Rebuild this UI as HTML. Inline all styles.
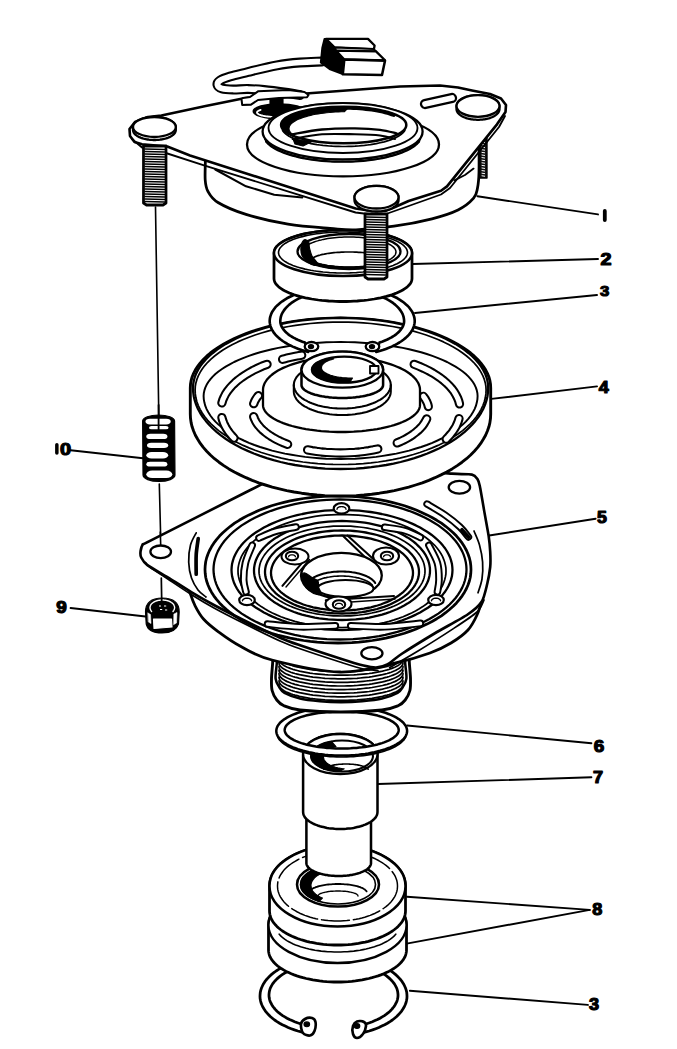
<!DOCTYPE html>
<html><head><meta charset="utf-8"><style>
html,body{margin:0;padding:0;background:#fff;overflow:hidden;width:677px;height:1049px;}
svg{display:block;}
text{font-family:"Liberation Sans",sans-serif;font-weight:bold;fill:#000;}
</style></head><body>
<svg width="677" height="1049" viewBox="0 0 677 1049" stroke="#000" stroke-linecap="round" stroke-linejoin="round" fill="none">
<rect width="677" height="1049" fill="#fff" stroke="none"/>
<line x1="477.5" y1="196.3" x2="598" y2="214.4" stroke-width="1.95"/>
<line x1="412.5" y1="264" x2="598" y2="259" stroke-width="1.95"/>
<line x1="415" y1="313" x2="597" y2="295" stroke-width="1.95"/>
<line x1="491.3" y1="398.9" x2="597" y2="386.4" stroke-width="1.95"/>
<line x1="487.6" y1="535.8" x2="595.6" y2="518.7" stroke-width="1.95"/>
<line x1="407.1" y1="725.5" x2="591.4" y2="743.2" stroke-width="1.95"/>
<line x1="378" y1="784" x2="591.4" y2="777.3" stroke-width="1.95"/>
<line x1="407" y1="896.7" x2="589.7" y2="909.9" stroke-width="1.95"/>
<line x1="405.3" y1="943.9" x2="589.7" y2="909.9" stroke-width="1.95"/>
<line x1="409.9" y1="990.7" x2="587.9" y2="1004.9" stroke-width="1.95"/>
<line x1="70.6" y1="450.2" x2="143" y2="458.3" stroke-width="1.95"/>
<line x1="70.6" y1="608" x2="145.5" y2="616.5" stroke-width="1.95"/>
<path d="M604.80,210.90 L604.80,220.10" stroke-width="3.80" fill="none" />
<text x="0" y="0" font-size="100" stroke="#000" stroke-width="7" stroke-linejoin="round" transform="translate(600.40,265.04) scale(0.1982,0.1597)">2</text>
<text x="0" y="0" font-size="100" stroke="#000" stroke-width="7" stroke-linejoin="round" transform="translate(600.05,296.31) scale(0.1684,0.1538)">3</text>
<text x="0" y="0" font-size="100" stroke="#000" stroke-width="7" stroke-linejoin="round" transform="translate(598.87,393.45) scale(0.1800,0.1579)">4</text>
<text x="0" y="0" font-size="100" stroke="#000" stroke-width="7" stroke-linejoin="round" transform="translate(596.89,522.98) scale(0.1772,0.1597)">5</text>
<text x="0" y="0" font-size="100" stroke="#000" stroke-width="7" stroke-linejoin="round" transform="translate(593.81,751.73) scale(0.1891,0.1705)">6</text>
<text x="0" y="0" font-size="100" stroke="#000" stroke-width="7" stroke-linejoin="round" transform="translate(592.91,783.09) scale(0.1815,0.1653)">7</text>
<text x="0" y="0" font-size="100" stroke="#000" stroke-width="7" stroke-linejoin="round" transform="translate(592.29,915.44) scale(0.1807,0.1692)">8</text>
<text x="0" y="0" font-size="100" stroke="#000" stroke-width="7" stroke-linejoin="round" transform="translate(588.97,1010.34) scale(0.1807,0.1679)">3</text>
<path d="M56.85,444.85 L56.85,453.05" stroke-width="3.50" fill="none" />
<text x="0" y="0" font-size="100" stroke="#000" stroke-width="7" stroke-linejoin="round" transform="translate(60.10,454.97) scale(0.2000,0.1615)">0</text>
<text x="0" y="0" font-size="100" stroke="#000" stroke-width="7" stroke-linejoin="round" transform="translate(56.31,612.73) scale(0.1891,0.1705)">9</text>
<line x1="155.5" y1="207" x2="158.8" y2="416" stroke-width="1.61"/>
<line x1="159.3" y1="484" x2="161" y2="550" stroke-width="1.61"/>
<path d="M308.4,1033.6 L304.8,1032.8 L301.2,1031.9 L297.8,1031.0 L294.5,1029.9 L291.2,1028.7 L288.1,1027.5 L285.2,1026.1 L282.3,1024.7 L279.6,1023.2 L277.0,1021.6 L274.6,1020.0 L272.4,1018.2 L270.3,1016.5 L268.4,1014.6 L266.7,1012.7 L265.2,1010.8 L263.9,1008.8 L262.7,1006.8 L261.8,1004.8 L261.0,1002.7 L260.5,1000.6 L260.1,998.5 L260.0,996.4 L260.1,994.3 L260.3,992.2 L260.8,990.1 L261.5,988.0 L262.4,986.0 L263.4,983.9 L264.7,981.9 L266.1,980.0 L267.8,978.1 L269.6,976.2 L271.6,974.4 L273.8,972.7 L276.1,971.0 L278.6,969.4 L281.3,967.9 L284.1,966.4 L287.0,965.0 L290.1,963.7 L293.2,962.5 L296.5,961.4 L299.9,960.4 L303.4,959.5 L307.0,958.7 L310.6,958.0 L314.4,957.4 L318.1,956.9 L321.9,956.5 L325.8,956.2 L329.6,956.1 L333.5,956.0 L337.4,956.1 L341.2,956.2 L345.1,956.5 L348.9,956.9 L352.6,957.4 L356.4,958.0 L360.0,958.7 L363.6,959.5 L367.1,960.4 L370.5,961.4 L373.8,962.5 L376.9,963.7 L380.0,965.0 L382.9,966.4 L385.7,967.9 L388.4,969.4 L390.9,971.0 L393.2,972.7 L395.4,974.4 L397.4,976.2 L399.2,978.1 L400.9,980.0 L402.3,981.9 L403.6,983.9 L404.6,986.0 L405.5,988.0 L406.2,990.1 L406.7,992.2 L406.9,994.3 L407.0,996.4 L406.9,998.5 L406.5,1000.6 L406.0,1002.7 L405.2,1004.8 L404.3,1006.8 L403.1,1008.8 L401.8,1010.8 L400.3,1012.7 L398.6,1014.6 L396.7,1016.5 L394.6,1018.2 L392.4,1020.0 L390.0,1021.6 L387.4,1023.2 L384.7,1024.7 L381.8,1026.1 L378.9,1027.5 L375.8,1028.7 L372.5,1029.9 L369.2,1031.0 L365.8,1031.9 L362.2,1032.8 L358.6,1033.6 L357.7,1026.1 L360.8,1025.4 L363.8,1024.6 L366.7,1023.7 L369.6,1022.8 L372.4,1021.7 L375.0,1020.6 L377.5,1019.5 L380.0,1018.2 L382.2,1016.9 L384.4,1015.6 L386.4,1014.2 L388.3,1012.7 L390.0,1011.2 L391.5,1009.6 L392.9,1008.0 L394.2,1006.4 L395.2,1004.7 L396.1,1003.0 L396.9,1001.3 L397.4,999.6 L397.8,997.8 L398.0,996.0 L398.0,994.3 L397.8,992.5 L397.5,990.8 L397.0,989.0 L396.3,987.3 L395.4,985.6 L394.4,983.9 L393.2,982.3 L391.8,980.7 L390.3,979.1 L388.6,977.6 L386.8,976.1 L384.8,974.7 L382.7,973.3 L380.4,972.0 L378.0,970.8 L375.5,969.6 L372.9,968.5 L370.1,967.4 L367.3,966.5 L364.4,965.6 L361.4,964.8 L358.3,964.1 L355.1,963.4 L351.9,962.9 L348.6,962.4 L345.3,962.1 L341.9,961.8 L338.6,961.6 L335.2,961.5 L331.8,961.5 L328.4,961.6 L325.1,961.8 L321.7,962.1 L318.4,962.4 L315.1,962.9 L311.9,963.4 L308.7,964.1 L305.6,964.8 L302.6,965.6 L299.7,966.5 L296.9,967.4 L294.1,968.5 L291.5,969.6 L289.0,970.8 L286.6,972.0 L284.3,973.3 L282.2,974.7 L280.2,976.1 L278.4,977.6 L276.7,979.1 L275.2,980.7 L273.8,982.3 L272.6,983.9 L271.6,985.6 L270.7,987.3 L270.0,989.0 L269.5,990.8 L269.2,992.5 L269.0,994.3 L269.0,996.0 L269.2,997.8 L269.6,999.6 L270.1,1001.3 L270.9,1003.0 L271.8,1004.7 L272.8,1006.4 L274.1,1008.0 L275.5,1009.6 L277.0,1011.2 L278.7,1012.7 L280.6,1014.2 L282.6,1015.6 L284.8,1016.9 L287.0,1018.2 L289.5,1019.5 L292.0,1020.6 L294.6,1021.7 L297.4,1022.8 L300.3,1023.7 L303.2,1024.6 L306.2,1025.4 L309.3,1026.1 Z" stroke-width="2.76" fill="white" />
<path d="M301.0,1024.0 C301.3,1021.7 303.2,1020.0 305.0,1019.0 C306.8,1018.0 310.2,1017.5 312.0,1018.0 C313.8,1018.5 315.1,1019.8 315.5,1022.0 C315.9,1024.2 315.4,1028.8 314.5,1031.0 C313.6,1033.2 311.9,1035.2 310.0,1035.5 C308.1,1035.8 304.5,1034.9 303.0,1033.0 C301.5,1031.1 300.7,1026.3 301.0,1024.0 Z" stroke-width="2.64" fill="white" />
<ellipse cx="306.8" cy="1024.3" rx="2.8" ry="2.4" stroke-width="1.15" fill="#000"/>
<path d="M353.0,1026.0 C353.7,1023.9 355.2,1022.2 357.0,1021.5 C358.8,1020.8 362.5,1021.2 364.0,1022.0 C365.5,1022.8 366.2,1024.0 366.0,1026.0 C365.8,1028.0 364.5,1032.0 363.0,1034.0 C361.5,1036.0 358.7,1038.0 357.0,1038.0 C355.3,1038.0 353.7,1036.0 353.0,1034.0 C352.3,1032.0 352.3,1028.1 353.0,1026.0 Z" stroke-width="2.64" fill="white" />
<ellipse cx="357" cy="1026" rx="2.8" ry="2.4" stroke-width="1.15" fill="#000"/>
<path d="M268.5,925.0 L268.6,923.0 L268.9,921.0 L269.3,919.1 L270.0,917.1 L270.9,915.2 L271.9,913.3 L273.1,911.4 L274.5,909.5 L276.0,907.7 L277.7,906.0 L279.6,904.3 L281.7,902.7 L283.9,901.1 L286.2,899.6 L288.7,898.1 L291.3,896.8 L294.1,895.5 L296.9,894.3 L299.9,893.1 L303.0,892.1 L306.2,891.1 L309.4,890.3 L312.8,889.5 L316.2,888.9 L319.6,888.3 L323.2,887.8 L326.7,887.5 L330.3,887.2 L333.9,887.1 L337.5,887.0 L341.1,887.1 L344.7,887.2 L348.3,887.5 L351.8,887.8 L355.4,888.3 L358.8,888.9 L362.2,889.5 L365.6,890.3 L368.8,891.1 L372.0,892.1 L375.1,893.1 L378.1,894.3 L380.9,895.5 L383.7,896.8 L386.3,898.1 L388.8,899.6 L391.1,901.1 L393.3,902.7 L395.4,904.3 L397.3,906.0 L399.0,907.7 L400.5,909.5 L401.9,911.4 L403.1,913.3 L404.1,915.2 L405.0,917.1 L405.7,919.1 L406.1,921.0 L406.4,923.0 L406.5,925.0 L406.5,950.0 L406.4,951.7 L406.1,953.3 L405.7,955.0 L405.0,956.7 L404.1,958.3 L403.1,959.9 L401.9,961.5 L400.5,963.0 L399.0,964.5 L397.3,966.0 L395.4,967.4 L393.3,968.8 L391.1,970.1 L388.8,971.4 L386.3,972.6 L383.7,973.8 L380.9,974.9 L378.1,975.9 L375.1,976.8 L372.0,977.7 L368.8,978.5 L365.6,979.2 L362.2,979.9 L358.8,980.4 L355.4,980.9 L351.8,981.3 L348.3,981.6 L344.7,981.8 L341.1,982.0 L337.5,982.0 L333.9,982.0 L330.3,981.8 L326.7,981.6 L323.2,981.3 L319.6,980.9 L316.2,980.4 L312.8,979.9 L309.4,979.2 L306.2,978.5 L303.0,977.7 L299.9,976.8 L296.9,975.9 L294.1,974.9 L291.3,973.8 L288.7,972.6 L286.2,971.4 L283.9,970.1 L281.7,968.8 L279.6,967.4 L277.7,966.0 L276.0,964.5 L274.5,963.0 L273.1,961.5 L271.9,959.9 L270.9,958.3 L270.0,956.7 L269.3,955.0 L268.9,953.3 L268.6,951.7 L268.5,950.0 Z" stroke-width="2.76" fill="white" />
<ellipse cx="337.5" cy="925" rx="69" ry="38" stroke-width="2.30" fill="white"/>
<path d="M395.8,934.2 L394.6,935.6 L393.2,936.9 L391.7,938.1 L390.0,939.4 L388.2,940.6 L386.2,941.7 L384.1,942.8 L381.8,943.9 L379.5,944.9 L377.0,945.8 L374.4,946.7 L371.7,947.5 L368.9,948.3 L366.0,949.0 L363.1,949.6 L360.0,950.2 L356.9,950.6 L353.8,951.1 L350.6,951.4 L347.3,951.7 L344.1,951.8 L340.8,952.0 L337.5,952.0 L334.2,952.0 L330.9,951.8 L327.7,951.7 L324.4,951.4 L321.2,951.1 L318.1,950.6 L315.0,950.2 L311.9,949.6 L309.0,949.0 L306.1,948.3 L303.3,947.5 L300.6,946.7 L298.0,945.8 L295.5,944.9 L293.2,943.9 L290.9,942.8 L288.8,941.7 L286.8,940.6 L285.0,939.4 L283.3,938.1 L281.8,936.9 L280.4,935.6 L279.2,934.2" stroke-width="1.61" fill="none" />
<path d="M269.5,886.0 L269.6,883.9 L269.9,881.8 L270.3,879.7 L271.0,877.6 L271.8,875.5 L272.8,873.5 L274.0,871.5 L275.4,869.5 L276.9,867.6 L278.6,865.8 L280.5,863.9 L282.5,862.2 L284.7,860.5 L287.0,858.9 L289.4,857.4 L292.0,855.9 L294.7,854.5 L297.5,853.2 L300.5,852.0 L303.5,850.9 L306.6,849.9 L309.8,849.0 L313.1,848.2 L316.5,847.5 L319.9,846.9 L323.4,846.4 L326.9,846.0 L330.4,845.7 L333.9,845.6 L337.5,845.5 L341.1,845.6 L344.6,845.7 L348.1,846.0 L351.6,846.4 L355.1,846.9 L358.5,847.5 L361.9,848.2 L365.2,849.0 L368.4,849.9 L371.5,850.9 L374.5,852.0 L377.5,853.2 L380.3,854.5 L383.0,855.9 L385.6,857.4 L388.0,858.9 L390.3,860.5 L392.5,862.2 L394.5,863.9 L396.4,865.8 L398.1,867.6 L399.6,869.5 L401.0,871.5 L402.2,873.5 L403.2,875.5 L404.0,877.6 L404.7,879.7 L405.1,881.8 L405.4,883.9 L405.5,886.0 L405.5,911.0 L405.4,912.8 L405.1,914.6 L404.7,916.3 L404.0,918.1 L403.2,919.8 L402.2,921.5 L401.0,923.2 L399.6,924.8 L398.1,926.4 L396.4,928.0 L394.5,929.5 L392.5,931.0 L390.3,932.4 L388.0,933.8 L385.6,935.0 L383.0,936.3 L380.3,937.4 L377.5,938.5 L374.5,939.5 L371.5,940.4 L368.4,941.3 L365.2,942.1 L361.9,942.7 L358.5,943.3 L355.1,943.8 L351.6,944.3 L348.1,944.6 L344.6,944.8 L341.1,945.0 L337.5,945.0 L333.9,945.0 L330.4,944.8 L326.9,944.6 L323.4,944.3 L319.9,943.8 L316.5,943.3 L313.1,942.7 L309.8,942.1 L306.6,941.3 L303.5,940.4 L300.5,939.5 L297.5,938.5 L294.7,937.4 L292.0,936.3 L289.4,935.0 L287.0,933.8 L284.7,932.4 L282.5,931.0 L280.5,929.5 L278.6,928.0 L276.9,926.4 L275.4,924.8 L274.0,923.2 L272.8,921.5 L271.8,919.8 L271.0,918.1 L270.3,916.3 L269.9,914.6 L269.6,912.8 L269.5,911.0 Z" stroke-width="2.76" fill="white" />
<ellipse cx="337.5" cy="886" rx="68" ry="40.5" stroke-width="2.53" fill="white"/>
<path d="M397.5,886.0 L397.4,887.8 L397.2,889.7 L396.8,891.5 L396.2,893.3 L395.5,895.1 L394.6,896.8 L393.5,898.5 L392.3,900.2 L391.0,901.9 L389.5,903.5 L387.8,905.1 L386.0,906.6 L384.1,908.0 L382.1,909.4 L379.9,910.7 L377.6,912.0 L375.3,913.2 L372.8,914.3 L370.2,915.4 L367.5,916.3 L364.7,917.2 L361.9,918.0 L359.0,918.7 L356.0,919.3 L353.0,919.8 L350.0,920.2 L346.9,920.6 L343.8,920.8 L340.6,921.0 L337.5,921.0 L334.4,921.0 L331.2,920.8 L328.1,920.6 L325.0,920.2 L322.0,919.8 L319.0,919.3 L316.0,918.7 L313.1,918.0 L310.3,917.2 L307.5,916.3 L304.8,915.4 L302.2,914.3 L299.7,913.2 L297.4,912.0 L295.1,910.7 L292.9,909.4 L290.9,908.0 L289.0,906.6 L287.2,905.1 L285.5,903.5 L284.0,901.9 L282.7,900.2 L281.5,898.5 L280.4,896.8 L279.5,895.1 L278.8,893.3 L278.2,891.5 L277.8,889.7 L277.6,887.8 L277.5,886.0 L277.6,884.2 L277.8,882.3 L278.2,880.5 L278.8,878.7 L279.5,876.9 L280.4,875.2 L281.5,873.5 L282.7,871.8 L284.0,870.1 L285.5,868.5 L287.2,866.9 L289.0,865.4 L290.9,864.0 L292.9,862.6 L295.1,861.3 L297.4,860.0 L299.7,858.8 L302.2,857.7 L304.8,856.6 L307.5,855.7 L310.3,854.8 L313.1,854.0 L316.0,853.3 L319.0,852.7 L322.0,852.2 L325.0,851.8 L328.1,851.4 L331.2,851.2 L334.4,851.0 L337.5,851.0 L340.6,851.0 L343.8,851.2 L346.9,851.4 L350.0,851.8 L353.0,852.2 L356.0,852.7 L359.0,853.3 L361.9,854.0 L364.7,854.8 L367.5,855.7 L370.2,856.6 L372.8,857.7 L375.3,858.8 L377.6,860.0 L379.9,861.3 L382.1,862.6 L384.1,864.0 L386.0,865.4 L387.8,866.9 L389.5,868.5 L391.0,870.1 L392.3,871.8 L393.5,873.5 L394.6,875.2 L395.5,876.9 L396.2,878.7 L396.8,880.5 L397.2,882.3 L397.4,884.2 L397.5,886.0" stroke-width="1.49" fill="none" stroke-dasharray="28 4"/>
<ellipse cx="338" cy="884.5" rx="41" ry="22" stroke-width="2.53" fill="white"/>
<ellipse cx="338" cy="884.5" rx="37.5" ry="19.5" stroke-width="1.61" fill="white"/>
<path d="M319.2,901.4 L317.6,900.8 L315.9,900.3 L314.4,899.6 L312.9,899.0 L311.4,898.3 L310.1,897.5 L308.8,896.7 L307.6,895.9 L306.5,895.1 L305.4,894.2 L304.5,893.3 L303.7,892.3 L302.9,891.4 L302.3,890.4 L301.7,889.4 L301.3,888.4 L300.9,887.4 L300.7,886.4 L300.5,885.4 L300.5,884.3 L300.6,883.3 L300.7,882.3 L301.0,881.3 L301.4,880.3 L301.9,879.3 L302.5,878.3 L303.1,877.3 L303.9,876.4 L304.8,875.4 L305.8,874.5 L306.8,873.7 L308.0,872.8 L309.2,872.0 L310.5,871.3 L311.9,870.5 L313.3,869.8 L314.8,869.2 L316.4,868.5 L318.1,868.0 L319.8,867.5 L321.5,867.0 L323.3,866.6 L325.2,866.2 L327.0,871.2 L325.5,871.7 L324.1,872.2 L322.8,872.7 L321.5,873.3 L320.3,873.9 L319.1,874.5 L318.0,875.2 L317.0,875.9 L316.0,876.6 L315.1,877.4 L314.3,878.2 L313.6,879.0 L313.0,879.8 L312.4,880.6 L312.0,881.5 L311.6,882.3 L311.3,883.2 L311.1,884.1 L311.0,884.9 L311.0,885.8 L311.1,886.7 L311.3,887.6 L311.5,888.4 L311.9,889.3 L312.3,890.2 L312.8,891.0 L313.4,891.8 L314.1,892.6 L314.9,893.4 L315.8,894.2 L316.7,894.9 L317.7,895.6 L318.8,896.3 L319.9,896.9 L321.2,897.6 L322.4,898.1 Z" stroke-width="1.15" fill="#000" />
<path d="M309.4,891.4 L309.7,891.0 L310.1,890.5 L310.6,890.1 L311.1,889.6 L311.7,889.2 L312.4,888.8 L313.2,888.3 L314.0,887.9 L314.9,887.6 L315.8,887.2 L316.9,886.8 L317.9,886.5 L319.1,886.2 L320.3,885.9 L321.5,885.6 L322.8,885.3 L324.1,885.1 L325.4,884.9 L326.8,884.7 L328.3,884.5 L329.7,884.4 L331.2,884.3 L332.7,884.2 L334.2,884.1 L335.7,884.0 L337.2,884.0 L338.8,884.0 L340.3,884.0 L341.8,884.1 L343.3,884.2 L344.8,884.3 L346.3,884.4 L347.7,884.5 L349.2,884.7 L350.6,884.9 L351.9,885.1 L353.2,885.3 L354.5,885.6 L355.7,885.9 L356.9,886.2 L358.1,886.5 L359.1,886.8 L360.2,887.2 L361.1,887.6 L362.0,887.9 L362.8,888.3 L363.6,888.8 L364.3,889.2 L364.9,889.6 L365.4,890.1 L365.9,890.5 L366.3,891.0 L366.6,891.4" stroke-width="1.84" fill="none" />
<path d="M318.0,896.0 L318.0,895.7 L318.1,895.5 L318.2,895.2 L318.4,895.0 L318.7,894.7 L319.0,894.5 L319.3,894.2 L319.7,894.0 L320.2,893.7 L320.7,893.5 L321.2,893.3 L321.8,893.1 L322.5,892.9 L323.1,892.7 L323.9,892.5 L324.6,892.3 L325.4,892.1 L326.2,892.0 L327.1,891.8 L328.0,891.7 L328.9,891.5 L329.9,891.4 L330.8,891.3 L331.8,891.2 L332.8,891.2 L333.8,891.1 L334.9,891.1 L335.9,891.0 L337.0,891.0 L338.0,891.0 L339.0,891.0 L340.1,891.0 L341.1,891.1 L342.2,891.1 L343.2,891.2 L344.2,891.2 L345.2,891.3 L346.1,891.4 L347.1,891.5 L348.0,891.7 L348.9,891.8 L349.8,892.0 L350.6,892.1 L351.4,892.3 L352.1,892.5 L352.9,892.7 L353.5,892.9 L354.2,893.1 L354.8,893.3 L355.3,893.5 L355.8,893.7 L356.3,894.0 L356.7,894.2 L357.0,894.5 L357.3,894.7 L357.6,895.0 L357.8,895.2 L357.9,895.5 L358.0,895.7 L358.0,896.0" stroke-width="1.38" fill="none" />
<path d="M306.4,818.0 L306.4,817.3 L306.6,816.6 L306.8,816.0 L307.1,815.3 L307.5,814.6 L308.0,814.0 L308.5,813.3 L309.2,812.7 L309.9,812.1 L310.7,811.5 L311.6,810.9 L312.6,810.4 L313.6,809.8 L314.7,809.3 L315.9,808.8 L317.1,808.3 L318.4,807.9 L319.7,807.5 L321.1,807.1 L322.5,806.7 L324.0,806.4 L325.6,806.1 L327.1,805.9 L328.7,805.6 L330.3,805.4 L332.0,805.3 L333.6,805.2 L335.3,805.1 L337.0,805.0 L338.7,805.0 L340.4,805.0 L342.1,805.1 L343.8,805.2 L345.4,805.3 L347.1,805.4 L348.7,805.6 L350.3,805.9 L351.8,806.1 L353.4,806.4 L354.8,806.7 L356.3,807.1 L357.7,807.5 L359.0,807.9 L360.3,808.3 L361.5,808.8 L362.7,809.3 L363.8,809.8 L364.8,810.4 L365.8,810.9 L366.7,811.5 L367.5,812.1 L368.2,812.7 L368.9,813.3 L369.4,814.0 L369.9,814.6 L370.3,815.3 L370.6,816.0 L370.8,816.6 L371.0,817.3 L371.0,818.0 L371.0,863.0 L371.0,863.7 L370.8,864.4 L370.6,865.0 L370.3,865.7 L369.9,866.4 L369.4,867.0 L368.9,867.7 L368.2,868.3 L367.5,868.9 L366.7,869.5 L365.8,870.1 L364.8,870.6 L363.8,871.2 L362.7,871.7 L361.5,872.2 L360.3,872.7 L359.0,873.1 L357.7,873.5 L356.3,873.9 L354.8,874.3 L353.4,874.6 L351.8,874.9 L350.3,875.1 L348.7,875.4 L347.1,875.6 L345.4,875.7 L343.8,875.8 L342.1,875.9 L340.4,876.0 L338.7,876.0 L337.0,876.0 L335.3,875.9 L333.6,875.8 L332.0,875.7 L330.3,875.6 L328.7,875.4 L327.1,875.1 L325.6,874.9 L324.0,874.6 L322.6,874.3 L321.1,873.9 L319.7,873.5 L318.4,873.1 L317.1,872.7 L315.9,872.2 L314.7,871.7 L313.6,871.2 L312.6,870.6 L311.6,870.1 L310.7,869.5 L309.9,868.9 L309.2,868.3 L308.5,867.7 L308.0,867.0 L307.5,866.4 L307.1,865.7 L306.8,865.0 L306.6,864.4 L306.4,863.7 L306.4,863.0 Z" stroke-width="2.53" fill="white" />
<path d="M303.1,754.0 L303.2,753.0 L303.3,751.9 L303.6,750.9 L303.9,749.8 L304.4,748.8 L304.9,747.8 L305.6,746.8 L306.3,745.9 L307.2,744.9 L308.1,744.0 L309.1,743.1 L310.2,742.2 L311.4,741.4 L312.7,740.6 L314.0,739.9 L315.4,739.1 L316.9,738.5 L318.4,737.8 L320.0,737.2 L321.7,736.7 L323.4,736.2 L325.2,735.7 L327.0,735.3 L328.8,735.0 L330.7,734.7 L332.6,734.4 L334.5,734.2 L336.4,734.1 L338.4,734.0 L340.3,734.0 L342.2,734.0 L344.2,734.1 L346.1,734.2 L348.0,734.4 L349.9,734.7 L351.8,735.0 L353.6,735.3 L355.4,735.7 L357.2,736.2 L358.9,736.7 L360.6,737.2 L362.2,737.8 L363.7,738.5 L365.2,739.1 L366.6,739.9 L367.9,740.6 L369.2,741.4 L370.4,742.2 L371.5,743.1 L372.5,744.0 L373.4,744.9 L374.3,745.9 L375.0,746.8 L375.7,747.8 L376.2,748.8 L376.7,749.8 L377.0,750.9 L377.3,751.9 L377.4,753.0 L377.5,754.0 L377.5,812.0 L377.4,812.9 L377.3,813.8 L377.0,814.7 L376.7,815.5 L376.2,816.4 L375.7,817.3 L375.0,818.1 L374.3,818.9 L373.4,819.7 L372.5,820.5 L371.5,821.3 L370.4,822.0 L369.2,822.7 L367.9,823.4 L366.6,824.0 L365.2,824.6 L363.7,825.2 L362.2,825.8 L360.6,826.3 L358.9,826.7 L357.2,827.1 L355.4,827.5 L353.6,827.9 L351.8,828.2 L349.9,828.4 L348.0,828.6 L346.1,828.8 L344.2,828.9 L342.2,829.0 L340.3,829.0 L338.4,829.0 L336.4,828.9 L334.5,828.8 L332.6,828.6 L330.7,828.4 L328.8,828.2 L327.0,827.9 L325.2,827.5 L323.4,827.1 L321.7,826.7 L320.0,826.3 L318.4,825.8 L316.9,825.2 L315.4,824.6 L314.0,824.0 L312.7,823.4 L311.4,822.7 L310.2,822.0 L309.1,821.3 L308.1,820.5 L307.2,819.7 L306.3,818.9 L305.6,818.1 L304.9,817.3 L304.4,816.4 L303.9,815.5 L303.6,814.7 L303.3,813.8 L303.2,812.9 L303.1,812.0 Z" stroke-width="2.53" fill="white" />
<ellipse cx="340.3" cy="754" rx="37.2" ry="20" stroke-width="2.30" fill="white"/>
<ellipse cx="342" cy="756" rx="31" ry="15.5" stroke-width="2.07" fill="white"/>
<path d="M339.3,771.4 L337.7,771.3 L336.0,771.2 L334.4,771.0 L332.9,770.8 L331.3,770.5 L329.8,770.2 L328.3,769.9 L326.8,769.5 L325.4,769.1 L324.0,768.6 L322.7,768.1 L321.5,767.6 L320.3,767.1 L319.1,766.5 L318.0,765.8 L317.0,765.2 L316.1,764.5 L315.2,763.8 L314.4,763.1 L313.7,762.4 L313.1,761.6 L312.5,760.8 L312.1,760.0 L311.7,759.2 L311.4,758.4 L311.2,757.6 L311.0,756.8 L311.0,756.0 L311.0,755.2 L311.2,754.3 L311.4,753.5 L311.7,752.7 L312.1,751.9 L312.6,751.1 L313.1,750.4 L313.8,749.6 L314.5,748.9 L315.3,748.1 L316.2,747.4 L317.1,746.8 L318.1,746.1 L319.2,745.5 L320.3,744.9 L321.6,744.4 L322.8,743.8 L324.1,743.3 L325.5,742.9 L326.9,742.5 L328.4,742.1 L329.9,741.7 L331.4,741.4 L336.0,746.6 L334.9,746.9 L333.8,747.3 L332.7,747.7 L331.7,748.1 L330.8,748.5 L329.8,749.0 L329.0,749.5 L328.2,750.0 L327.4,750.5 L326.8,751.1 L326.1,751.6 L325.6,752.2 L325.1,752.8 L324.6,753.4 L324.3,754.0 L324.0,754.6 L323.8,755.3 L323.6,755.9 L323.5,756.5 L323.5,757.2 L323.6,757.8 L323.7,758.5 L323.9,759.1 L324.1,759.7 L324.5,760.3 L324.9,760.9 L325.3,761.5 L325.9,762.1 L326.5,762.7 L327.1,763.2 L327.9,763.8 L328.6,764.3 L329.5,764.8 L330.4,765.3 L331.3,765.7 L332.3,766.1 L333.3,766.5 L334.4,766.9 L335.5,767.3 L336.7,767.6 L337.8,767.9 L339.1,768.1 L340.3,768.3 L341.6,768.5 L342.9,768.7 L344.2,768.8 Z" stroke-width="1.15" fill="#000" />
<path d="M323.8,769.2 L324.1,768.8 L324.5,768.5 L325.0,768.2 L325.5,767.8 L326.1,767.5 L326.7,767.2 L327.4,766.9 L328.1,766.6 L328.9,766.3 L329.7,766.1 L330.6,765.8 L331.5,765.6 L332.5,765.3 L333.5,765.1 L334.5,764.9 L335.6,764.8 L336.6,764.6 L337.8,764.5 L338.9,764.3 L340.0,764.2 L341.2,764.2 L342.4,764.1 L343.6,764.0 L344.8,764.0 L346.0,764.0 L347.2,764.0 L348.4,764.0 L349.6,764.1 L350.8,764.2 L352.0,764.2 L353.1,764.3 L354.2,764.5 L355.4,764.6 L356.4,764.8 L357.5,764.9 L358.5,765.1 L359.5,765.3 L360.5,765.6 L361.4,765.8 L362.3,766.1 L363.1,766.3 L363.9,766.6 L364.6,766.9 L365.3,767.2 L365.9,767.5 L366.5,767.8 L367.0,768.2 L367.5,768.5 L367.9,768.8 L368.2,769.2" stroke-width="1.61" fill="none" />
<path d="M407.1,731.0 L407.0,732.3 L406.7,733.6 L406.3,734.8 L405.7,736.1 L404.9,737.3 L403.9,738.6 L402.8,739.8 L401.4,741.0 L400.0,742.1 L398.3,743.2 L396.5,744.3 L394.6,745.4 L392.5,746.4 L390.3,747.4 L387.9,748.3 L385.5,749.2 L382.9,750.0 L380.1,750.8 L377.3,751.5 L374.4,752.2 L371.4,752.8 L368.3,753.4 L365.1,753.9 L361.9,754.3 L358.6,754.7 L355.3,755.0 L351.9,755.2 L348.5,755.4 L345.1,755.5 L341.7,755.5 L338.3,755.5 L334.9,755.4 L331.5,755.2 L328.1,755.0 L324.8,754.7 L321.5,754.3 L318.3,753.9 L315.1,753.4 L312.0,752.8 L309.0,752.2 L306.1,751.5 L303.3,750.8 L300.5,750.0 L297.9,749.2 L295.5,748.3 L293.1,747.4 L290.9,746.4 L288.8,745.4 L286.9,744.3 L285.1,743.2 L283.4,742.1 L282.0,741.0 L280.6,739.8 L279.5,738.6 L278.5,737.3 L277.7,736.1 L277.1,734.8 L276.7,733.6 L276.4,732.3 L276.3,731.0 L276.4,729.7 L276.7,728.4 L277.1,727.2 L277.7,725.9 L278.5,724.7 L279.5,723.4 L280.6,722.2 L282.0,721.0 L283.4,719.9 L285.1,718.8 L286.9,717.7 L288.8,716.6 L290.9,715.6 L293.1,714.6 L295.5,713.7 L297.9,712.8 L300.5,712.0 L303.3,711.2 L306.1,710.5 L309.0,709.8 L312.0,709.2 L315.1,708.6 L318.3,708.1 L321.5,707.7 L324.8,707.3 L328.1,707.0 L331.5,706.8 L334.9,706.6 L338.3,706.5 L341.7,706.5 L345.1,706.5 L348.5,706.6 L351.9,706.8 L355.3,707.0 L358.6,707.3 L361.9,707.7 L365.1,708.1 L368.3,708.6 L371.4,709.2 L374.4,709.8 L377.3,710.5 L380.1,711.2 L382.9,712.0 L385.5,712.8 L387.9,713.7 L390.3,714.6 L392.5,715.6 L394.6,716.6 L396.5,717.7 L398.3,718.8 L400.0,719.9 L401.4,721.0 L402.8,722.2 L403.9,723.4 L404.9,724.7 L405.7,725.9 L406.3,727.2 L406.7,728.4 L407.0,729.7 L407.1,731.0 Z M398.7,730.0 L398.6,729.0 L398.4,728.1 L398.0,727.1 L397.5,726.2 L396.8,725.2 L395.9,724.3 L394.9,723.4 L393.8,722.5 L392.5,721.6 L391.1,720.8 L389.5,719.9 L387.8,719.1 L386.0,718.4 L384.1,717.6 L382.0,716.9 L379.8,716.3 L377.6,715.6 L375.2,715.0 L372.7,714.5 L370.2,714.0 L367.6,713.5 L364.9,713.1 L362.1,712.7 L359.3,712.4 L356.5,712.1 L353.6,711.9 L350.6,711.7 L347.7,711.6 L344.7,711.5 L341.7,711.5 L338.7,711.5 L335.7,711.6 L332.8,711.7 L329.8,711.9 L326.9,712.1 L324.1,712.4 L321.3,712.7 L318.5,713.1 L315.8,713.5 L313.2,714.0 L310.7,714.5 L308.2,715.0 L305.8,715.6 L303.6,716.3 L301.4,716.9 L299.3,717.6 L297.4,718.4 L295.6,719.1 L293.9,719.9 L292.3,720.8 L290.9,721.6 L289.6,722.5 L288.5,723.4 L287.5,724.3 L286.6,725.2 L285.9,726.2 L285.4,727.1 L285.0,728.1 L284.8,729.0 L284.7,730.0 L284.8,731.0 L285.0,731.9 L285.4,732.9 L285.9,733.8 L286.6,734.8 L287.5,735.7 L288.5,736.6 L289.6,737.5 L290.9,738.4 L292.3,739.2 L293.9,740.1 L295.6,740.9 L297.4,741.6 L299.3,742.4 L301.4,743.1 L303.6,743.7 L305.8,744.4 L308.2,745.0 L310.7,745.5 L313.2,746.0 L315.8,746.5 L318.5,746.9 L321.3,747.3 L324.1,747.6 L326.9,747.9 L329.8,748.1 L332.8,748.3 L335.7,748.4 L338.7,748.5 L341.7,748.5 L344.7,748.5 L347.7,748.4 L350.6,748.3 L353.6,748.1 L356.5,747.9 L359.3,747.6 L362.1,747.3 L364.9,746.9 L367.6,746.5 L370.2,746.0 L372.7,745.5 L375.2,745.0 L377.6,744.4 L379.8,743.7 L382.0,743.1 L384.1,742.4 L386.0,741.6 L387.8,740.9 L389.5,740.1 L391.1,739.2 L392.5,738.4 L393.8,737.5 L394.9,736.6 L395.9,735.7 L396.8,734.8 L397.5,733.8 L398.0,732.9 L398.4,731.9 L398.6,731.0 L398.7,730.0 Z" stroke-width="2.53" fill="white" fill-rule="evenodd"/>
<path d="M405.7,737.2 L405.0,738.4 L404.2,739.6 L403.1,740.8 L401.9,742.0 L400.6,743.2 L399.0,744.3 L397.3,745.4 L395.5,746.5 L393.5,747.5 L391.4,748.5 L389.1,749.4 L386.7,750.3 L384.1,751.2 L381.5,752.0 L378.7,752.7 L375.9,753.4 L372.9,754.1 L369.8,754.6 L366.7,755.2 L363.5,755.6 L360.3,756.0 L357.0,756.3 L353.6,756.6 L350.2,756.8 L346.8,756.9 L343.4,757.0 L340.0,757.0 L336.6,756.9 L333.2,756.8 L329.8,756.6 L326.4,756.3 L323.1,756.0 L319.9,755.6 L316.7,755.2 L313.6,754.6 L310.5,754.1 L307.5,753.4 L304.7,752.7 L301.9,752.0 L299.3,751.2 L296.7,750.3 L294.3,749.4 L292.0,748.5 L289.9,747.5 L287.9,746.5 L286.1,745.4 L284.4,744.3 L282.8,743.2 L281.5,742.0 L280.3,740.8 L279.2,739.6 L278.4,738.4 L277.7,737.2" stroke-width="1.61" fill="none" />
<path d="M272.7,650.0 C272.7,651.8 272.9,657.7 272.7,662.0 C272.5,666.3 271.6,674.3 271.5,678.6 C271.4,682.9 271.3,687.3 272.1,690.5 C272.9,693.7 275.0,697.7 276.8,700.0 C278.6,702.3 280.4,704.3 283.9,705.8 C287.4,707.3 291.4,709.1 300.0,710.0 C308.6,710.9 328.7,712.0 341.0,712.0 C353.3,712.0 373.4,710.9 382.0,710.0 C390.6,709.1 394.6,707.3 398.1,705.8 C401.6,704.3 403.4,702.3 405.2,700.0 C407.0,697.7 409.1,693.7 409.9,690.5 C410.7,687.3 410.6,682.9 410.5,678.6 C410.4,674.3 409.5,666.3 409.3,662.0 C409.1,657.7 409.3,651.8 409.3,650.0 Z" stroke-width="2.88" fill="white" />
<clipPath id="thr"><path d="M276.8,655.0 C276.8,656.2 277.0,659.8 276.8,663.3 C276.6,666.8 275.2,675.0 275.6,678.6 C276.0,682.2 277.9,684.9 279.2,687.0 C280.5,689.1 281.4,691.1 284.5,692.8 C287.6,694.5 294.7,697.2 300.0,698.5 C305.3,699.8 313.9,700.7 320.0,701.3 C326.1,701.9 334.7,702.3 341.0,702.3 C347.3,702.3 355.9,701.9 362.0,701.3 C368.1,700.7 376.7,699.8 382.0,698.5 C387.3,697.2 394.4,694.5 397.5,692.8 C400.6,691.1 401.5,689.1 402.8,687.0 C404.1,684.9 406.0,682.2 406.4,678.6 C406.8,675.0 405.4,666.8 405.2,663.3 C405.0,659.8 405.2,656.2 405.2,655.0 Z"/></clipPath>
<g clip-path="url(#thr)">
<path d="M403.0,652.0 L402.9,652.8 L402.7,653.7 L402.2,654.5 L401.6,655.3 L400.9,656.1 L400.0,656.9 L398.9,657.7 L397.6,658.5 L396.2,659.3 L394.7,660.0 L393.0,660.7 L391.2,661.4 L389.2,662.1 L387.1,662.7 L384.8,663.3 L382.5,663.9 L380.0,664.4 L377.4,664.9 L374.8,665.4 L372.0,665.9 L369.1,666.3 L366.2,666.6 L363.2,666.9 L360.2,667.2 L357.0,667.5 L353.9,667.7 L350.7,667.8 L347.5,667.9 L344.2,668.0 L341.0,668.0 L337.8,668.0 L334.5,667.9 L331.3,667.8 L328.1,667.7 L325.0,667.5 L321.8,667.2 L318.8,666.9 L315.8,666.6 L312.9,666.3 L310.0,665.9 L307.2,665.4 L304.6,664.9 L302.0,664.4 L299.5,663.9 L297.2,663.3 L294.9,662.7 L292.8,662.1 L290.8,661.4 L289.0,660.7 L287.3,660.0 L285.8,659.3 L284.4,658.5 L283.1,657.7 L282.0,656.9 L281.1,656.1 L280.4,655.3 L279.8,654.5 L279.3,653.7 L279.1,652.8 L279.0,652.0" stroke-width="1.72" fill="none" />
<path d="M403.0,655.6 L402.9,656.4 L402.7,657.3 L402.2,658.1 L401.6,658.9 L400.9,659.7 L400.0,660.5 L398.9,661.3 L397.6,662.1 L396.2,662.9 L394.7,663.6 L393.0,664.3 L391.2,665.0 L389.2,665.7 L387.1,666.3 L384.8,666.9 L382.5,667.5 L380.0,668.0 L377.4,668.5 L374.8,669.0 L372.0,669.5 L369.1,669.9 L366.2,670.2 L363.2,670.5 L360.2,670.8 L357.0,671.1 L353.9,671.3 L350.7,671.4 L347.5,671.5 L344.2,671.6 L341.0,671.6 L337.8,671.6 L334.5,671.5 L331.3,671.4 L328.1,671.3 L325.0,671.1 L321.8,670.8 L318.8,670.5 L315.8,670.2 L312.9,669.9 L310.0,669.5 L307.2,669.0 L304.6,668.5 L302.0,668.0 L299.5,667.5 L297.2,666.9 L294.9,666.3 L292.8,665.7 L290.8,665.0 L289.0,664.3 L287.3,663.6 L285.8,662.9 L284.4,662.1 L283.1,661.3 L282.0,660.5 L281.1,659.7 L280.4,658.9 L279.8,658.1 L279.3,657.3 L279.1,656.4 L279.0,655.6" stroke-width="1.72" fill="none" />
<path d="M403.0,659.2 L402.9,660.0 L402.7,660.9 L402.2,661.7 L401.6,662.5 L400.9,663.3 L400.0,664.1 L398.9,664.9 L397.6,665.7 L396.2,666.5 L394.7,667.2 L393.0,667.9 L391.2,668.6 L389.2,669.3 L387.1,669.9 L384.8,670.5 L382.5,671.1 L380.0,671.6 L377.4,672.1 L374.8,672.6 L372.0,673.1 L369.1,673.5 L366.2,673.8 L363.2,674.1 L360.2,674.4 L357.0,674.7 L353.9,674.9 L350.7,675.0 L347.5,675.1 L344.2,675.2 L341.0,675.2 L337.8,675.2 L334.5,675.1 L331.3,675.0 L328.1,674.9 L325.0,674.7 L321.8,674.4 L318.8,674.1 L315.8,673.8 L312.9,673.5 L310.0,673.1 L307.2,672.6 L304.6,672.1 L302.0,671.6 L299.5,671.1 L297.2,670.5 L294.9,669.9 L292.8,669.3 L290.8,668.6 L289.0,667.9 L287.3,667.2 L285.8,666.5 L284.4,665.7 L283.1,664.9 L282.0,664.1 L281.1,663.3 L280.4,662.5 L279.8,661.7 L279.3,660.9 L279.1,660.0 L279.0,659.2" stroke-width="1.72" fill="none" />
<path d="M403.0,662.8 L402.9,663.6 L402.7,664.5 L402.2,665.3 L401.6,666.1 L400.9,666.9 L400.0,667.7 L398.9,668.5 L397.6,669.3 L396.2,670.1 L394.7,670.8 L393.0,671.5 L391.2,672.2 L389.2,672.9 L387.1,673.5 L384.8,674.1 L382.5,674.7 L380.0,675.2 L377.4,675.7 L374.8,676.2 L372.0,676.7 L369.1,677.1 L366.2,677.4 L363.2,677.7 L360.2,678.0 L357.0,678.3 L353.9,678.5 L350.7,678.6 L347.5,678.7 L344.2,678.8 L341.0,678.8 L337.8,678.8 L334.5,678.7 L331.3,678.6 L328.1,678.5 L325.0,678.3 L321.8,678.0 L318.8,677.7 L315.8,677.4 L312.9,677.1 L310.0,676.7 L307.2,676.2 L304.6,675.7 L302.0,675.2 L299.5,674.7 L297.2,674.1 L294.9,673.5 L292.8,672.9 L290.8,672.2 L289.0,671.5 L287.3,670.8 L285.8,670.1 L284.4,669.3 L283.1,668.5 L282.0,667.7 L281.1,666.9 L280.4,666.1 L279.8,665.3 L279.3,664.5 L279.1,663.6 L279.0,662.8" stroke-width="1.72" fill="none" />
<path d="M403.0,666.4 L402.9,667.2 L402.7,668.1 L402.2,668.9 L401.6,669.7 L400.9,670.5 L400.0,671.3 L398.9,672.1 L397.6,672.9 L396.2,673.7 L394.7,674.4 L393.0,675.1 L391.2,675.8 L389.2,676.5 L387.1,677.1 L384.8,677.7 L382.5,678.3 L380.0,678.8 L377.4,679.3 L374.8,679.8 L372.0,680.3 L369.1,680.7 L366.2,681.0 L363.2,681.3 L360.2,681.6 L357.0,681.9 L353.9,682.1 L350.7,682.2 L347.5,682.3 L344.2,682.4 L341.0,682.4 L337.8,682.4 L334.5,682.3 L331.3,682.2 L328.1,682.1 L325.0,681.9 L321.8,681.6 L318.8,681.3 L315.8,681.0 L312.9,680.7 L310.0,680.3 L307.2,679.8 L304.6,679.3 L302.0,678.8 L299.5,678.3 L297.2,677.7 L294.9,677.1 L292.8,676.5 L290.8,675.8 L289.0,675.1 L287.3,674.4 L285.8,673.7 L284.4,672.9 L283.1,672.1 L282.0,671.3 L281.1,670.5 L280.4,669.7 L279.8,668.9 L279.3,668.1 L279.1,667.2 L279.0,666.4" stroke-width="1.72" fill="none" />
<path d="M403.0,670.0 L402.9,670.8 L402.7,671.7 L402.2,672.5 L401.6,673.3 L400.9,674.1 L400.0,674.9 L398.9,675.7 L397.6,676.5 L396.2,677.3 L394.7,678.0 L393.0,678.7 L391.2,679.4 L389.2,680.1 L387.1,680.7 L384.8,681.3 L382.5,681.9 L380.0,682.4 L377.4,682.9 L374.8,683.4 L372.0,683.9 L369.1,684.3 L366.2,684.6 L363.2,684.9 L360.2,685.2 L357.0,685.5 L353.9,685.7 L350.7,685.8 L347.5,685.9 L344.2,686.0 L341.0,686.0 L337.8,686.0 L334.5,685.9 L331.3,685.8 L328.1,685.7 L325.0,685.5 L321.8,685.2 L318.8,684.9 L315.8,684.6 L312.9,684.3 L310.0,683.9 L307.2,683.4 L304.6,682.9 L302.0,682.4 L299.5,681.9 L297.2,681.3 L294.9,680.7 L292.8,680.1 L290.8,679.4 L289.0,678.7 L287.3,678.0 L285.8,677.3 L284.4,676.5 L283.1,675.7 L282.0,674.9 L281.1,674.1 L280.4,673.3 L279.8,672.5 L279.3,671.7 L279.1,670.8 L279.0,670.0" stroke-width="1.72" fill="none" />
<path d="M403.0,673.6 L402.9,674.4 L402.7,675.3 L402.2,676.1 L401.6,676.9 L400.9,677.7 L400.0,678.5 L398.9,679.3 L397.6,680.1 L396.2,680.9 L394.7,681.6 L393.0,682.3 L391.2,683.0 L389.2,683.7 L387.1,684.3 L384.8,684.9 L382.5,685.5 L380.0,686.0 L377.4,686.5 L374.8,687.0 L372.0,687.5 L369.1,687.9 L366.2,688.2 L363.2,688.5 L360.2,688.8 L357.0,689.1 L353.9,689.3 L350.7,689.4 L347.5,689.5 L344.2,689.6 L341.0,689.6 L337.8,689.6 L334.5,689.5 L331.3,689.4 L328.1,689.3 L325.0,689.1 L321.8,688.8 L318.8,688.5 L315.8,688.2 L312.9,687.9 L310.0,687.5 L307.2,687.0 L304.6,686.5 L302.0,686.0 L299.5,685.5 L297.2,684.9 L294.9,684.3 L292.8,683.7 L290.8,683.0 L289.0,682.3 L287.3,681.6 L285.8,680.9 L284.4,680.1 L283.1,679.3 L282.0,678.5 L281.1,677.7 L280.4,676.9 L279.8,676.1 L279.3,675.3 L279.1,674.4 L279.0,673.6" stroke-width="1.72" fill="none" />
<path d="M403.0,677.2 L402.9,678.0 L402.7,678.9 L402.2,679.7 L401.6,680.5 L400.9,681.3 L400.0,682.1 L398.9,682.9 L397.6,683.7 L396.2,684.5 L394.7,685.2 L393.0,685.9 L391.2,686.6 L389.2,687.3 L387.1,687.9 L384.8,688.5 L382.5,689.1 L380.0,689.6 L377.4,690.1 L374.8,690.6 L372.0,691.1 L369.1,691.5 L366.2,691.8 L363.2,692.1 L360.2,692.4 L357.0,692.7 L353.9,692.9 L350.7,693.0 L347.5,693.1 L344.2,693.2 L341.0,693.2 L337.8,693.2 L334.5,693.1 L331.3,693.0 L328.1,692.9 L325.0,692.7 L321.8,692.4 L318.8,692.1 L315.8,691.8 L312.9,691.5 L310.0,691.1 L307.2,690.6 L304.6,690.1 L302.0,689.6 L299.5,689.1 L297.2,688.5 L294.9,687.9 L292.8,687.3 L290.8,686.6 L289.0,685.9 L287.3,685.2 L285.8,684.5 L284.4,683.7 L283.1,682.9 L282.0,682.1 L281.1,681.3 L280.4,680.5 L279.8,679.7 L279.3,678.9 L279.1,678.0 L279.0,677.2" stroke-width="1.72" fill="none" />
<path d="M403.0,680.8 L402.9,681.6 L402.7,682.5 L402.2,683.3 L401.6,684.1 L400.9,684.9 L400.0,685.7 L398.9,686.5 L397.6,687.3 L396.2,688.1 L394.7,688.8 L393.0,689.5 L391.2,690.2 L389.2,690.9 L387.1,691.5 L384.8,692.1 L382.5,692.7 L380.0,693.2 L377.4,693.7 L374.8,694.2 L372.0,694.7 L369.1,695.1 L366.2,695.4 L363.2,695.7 L360.2,696.0 L357.0,696.3 L353.9,696.5 L350.7,696.6 L347.5,696.7 L344.2,696.8 L341.0,696.8 L337.8,696.8 L334.5,696.7 L331.3,696.6 L328.1,696.5 L325.0,696.3 L321.8,696.0 L318.8,695.7 L315.8,695.4 L312.9,695.1 L310.0,694.7 L307.2,694.2 L304.6,693.7 L302.0,693.2 L299.5,692.7 L297.2,692.1 L294.9,691.5 L292.8,690.9 L290.8,690.2 L289.0,689.5 L287.3,688.8 L285.8,688.1 L284.4,687.3 L283.1,686.5 L282.0,685.7 L281.1,684.9 L280.4,684.1 L279.8,683.3 L279.3,682.5 L279.1,681.6 L279.0,680.8" stroke-width="1.72" fill="none" />
<path d="M403.0,684.4 L402.9,685.2 L402.7,686.1 L402.2,686.9 L401.6,687.7 L400.9,688.5 L400.0,689.3 L398.9,690.1 L397.6,690.9 L396.2,691.7 L394.7,692.4 L393.0,693.1 L391.2,693.8 L389.2,694.5 L387.1,695.1 L384.8,695.7 L382.5,696.3 L380.0,696.8 L377.4,697.3 L374.8,697.8 L372.0,698.3 L369.1,698.7 L366.2,699.0 L363.2,699.3 L360.2,699.6 L357.0,699.9 L353.9,700.1 L350.7,700.2 L347.5,700.3 L344.2,700.4 L341.0,700.4 L337.8,700.4 L334.5,700.3 L331.3,700.2 L328.1,700.1 L325.0,699.9 L321.8,699.6 L318.8,699.3 L315.8,699.0 L312.9,698.7 L310.0,698.3 L307.2,697.8 L304.6,697.3 L302.0,696.8 L299.5,696.3 L297.2,695.7 L294.9,695.1 L292.8,694.5 L290.8,693.8 L289.0,693.1 L287.3,692.4 L285.8,691.7 L284.4,690.9 L283.1,690.1 L282.0,689.3 L281.1,688.5 L280.4,687.7 L279.8,686.9 L279.3,686.1 L279.1,685.2 L279.0,684.4" stroke-width="1.72" fill="none" />
<path d="M403.0,688.0 L402.9,688.8 L402.7,689.7 L402.2,690.5 L401.6,691.3 L400.9,692.1 L400.0,692.9 L398.9,693.7 L397.6,694.5 L396.2,695.3 L394.7,696.0 L393.0,696.7 L391.2,697.4 L389.2,698.1 L387.1,698.7 L384.8,699.3 L382.5,699.9 L380.0,700.4 L377.4,700.9 L374.8,701.4 L372.0,701.9 L369.1,702.3 L366.2,702.6 L363.2,702.9 L360.2,703.2 L357.0,703.5 L353.9,703.7 L350.7,703.8 L347.5,703.9 L344.2,704.0 L341.0,704.0 L337.8,704.0 L334.5,703.9 L331.3,703.8 L328.1,703.7 L325.0,703.5 L321.8,703.2 L318.8,702.9 L315.8,702.6 L312.9,702.3 L310.0,701.9 L307.2,701.4 L304.6,700.9 L302.0,700.4 L299.5,699.9 L297.2,699.3 L294.9,698.7 L292.8,698.1 L290.8,697.4 L289.0,696.7 L287.3,696.0 L285.8,695.3 L284.4,694.5 L283.1,693.7 L282.0,692.9 L281.1,692.1 L280.4,691.3 L279.8,690.5 L279.3,689.7 L279.1,688.8 L279.0,688.0" stroke-width="1.72" fill="none" />
<path d="M403.0,691.6 L402.9,692.4 L402.7,693.3 L402.2,694.1 L401.6,694.9 L400.9,695.7 L400.0,696.5 L398.9,697.3 L397.6,698.1 L396.2,698.9 L394.7,699.6 L393.0,700.3 L391.2,701.0 L389.2,701.7 L387.1,702.3 L384.8,702.9 L382.5,703.5 L380.0,704.0 L377.4,704.5 L374.8,705.0 L372.0,705.5 L369.1,705.9 L366.2,706.2 L363.2,706.5 L360.2,706.8 L357.0,707.1 L353.9,707.3 L350.7,707.4 L347.5,707.5 L344.2,707.6 L341.0,707.6 L337.8,707.6 L334.5,707.5 L331.3,707.4 L328.1,707.3 L325.0,707.1 L321.8,706.8 L318.8,706.5 L315.8,706.2 L312.9,705.9 L310.0,705.5 L307.2,705.0 L304.6,704.5 L302.0,704.0 L299.5,703.5 L297.2,702.9 L294.9,702.3 L292.8,701.7 L290.8,701.0 L289.0,700.3 L287.3,699.6 L285.8,698.9 L284.4,698.1 L283.1,697.3 L282.0,696.5 L281.1,695.7 L280.4,694.9 L279.8,694.1 L279.3,693.3 L279.1,692.4 L279.0,691.6" stroke-width="1.72" fill="none" />
<path d="M403.0,695.2 L402.9,696.0 L402.7,696.9 L402.2,697.7 L401.6,698.5 L400.9,699.3 L400.0,700.1 L398.9,700.9 L397.6,701.7 L396.2,702.5 L394.7,703.2 L393.0,703.9 L391.2,704.6 L389.2,705.3 L387.1,705.9 L384.8,706.5 L382.5,707.1 L380.0,707.6 L377.4,708.1 L374.8,708.6 L372.0,709.1 L369.1,709.5 L366.2,709.8 L363.2,710.1 L360.2,710.4 L357.0,710.7 L353.9,710.9 L350.7,711.0 L347.5,711.1 L344.2,711.2 L341.0,711.2 L337.8,711.2 L334.5,711.1 L331.3,711.0 L328.1,710.9 L325.0,710.7 L321.8,710.4 L318.8,710.1 L315.8,709.8 L312.9,709.5 L310.0,709.1 L307.2,708.6 L304.6,708.1 L302.0,707.6 L299.5,707.1 L297.2,706.5 L294.9,705.9 L292.8,705.3 L290.8,704.6 L289.0,703.9 L287.3,703.2 L285.8,702.5 L284.4,701.7 L283.1,700.9 L282.0,700.1 L281.1,699.3 L280.4,698.5 L279.8,697.7 L279.3,696.9 L279.1,696.0 L279.0,695.2" stroke-width="1.72" fill="none" />
</g>
<path d="M276.8,655.0 C276.8,656.2 277.0,659.8 276.8,663.3 C276.6,666.8 275.2,675.0 275.6,678.6 C276.0,682.2 277.9,684.9 279.2,687.0 C280.5,689.1 281.4,691.1 284.5,692.8 C287.6,694.5 294.7,697.2 300.0,698.5 C305.3,699.8 313.9,700.7 320.0,701.3 C326.1,701.9 334.7,702.3 341.0,702.3 C347.3,702.3 355.9,701.9 362.0,701.3 C368.1,700.7 376.7,699.8 382.0,698.5 C387.3,697.2 394.4,694.5 397.5,692.8 C400.6,691.1 401.5,689.1 402.8,687.0 C404.1,684.9 406.0,682.2 406.4,678.6 C406.8,675.0 405.4,666.8 405.2,663.3 C405.0,659.8 405.2,656.2 405.2,655.0 Z" stroke-width="2.53" fill="none" />
<path d="M145.5,612 C145.5,601 154,598 162.3,598 C171,598 179.2,601 179.2,612 L178.5,624 C176,631.5 169,633 162,633 C155,633 148,631.5 146.2,624 Z" stroke-width="1.15" fill="#000" />
<path d="M151.6,611.4 L151.3,611.1 L151.1,610.7 L150.8,610.3 L150.6,609.9 L150.4,609.6 L150.3,609.2 L150.2,608.8 L150.1,608.4 L150.0,608.0 L150.0,607.6 L150.0,607.2 L150.1,606.8 L150.2,606.4 L150.3,606.0 L150.4,605.6 L150.6,605.3 L150.8,604.9 L151.1,604.5 L151.3,604.1 L151.6,603.8 L152.0,603.5 L152.3,603.1 L152.7,602.8 L153.2,602.5 L153.6,602.2 L154.1,602.0 L154.6,601.7 L155.1,601.5 L155.6,601.2 L156.2,601.0 L156.7,600.8 L157.3,600.7 L157.9,600.5 L158.5,600.4 L159.1,600.3 L159.7,600.2 L160.4,600.1 L161.0,600.0 L161.7,600.0 L162.3,600.0 L162.9,600.0 L163.6,600.0 L164.2,600.1 L164.9,600.2 L165.5,600.3 L166.1,600.4 L166.7,600.5 L167.3,600.7 L167.9,600.8 L168.5,601.0 L169.0,601.2 L169.5,601.5 L170.0,601.7 L170.5,602.0 L171.0,602.2 L171.4,602.5 L171.9,602.8 L172.3,603.1 L172.6,603.5 L173.0,603.8 L173.3,604.1 L173.5,604.5 L173.8,604.9 L174.0,605.3 L174.2,605.6 L174.3,606.0 L174.4,606.4 L174.5,606.8 L174.6,607.2 L174.6,607.6 L174.6,608.0 L174.5,608.4 L174.4,608.8 L174.3,609.2 L174.2,609.6 L174.0,609.9 L173.8,610.3 L173.5,610.7 L173.3,611.1 L173.0,611.4" stroke-width="1.38" fill="none" stroke="#fff"/>
<path d="M153.5,619 L171.5,619 L172,627 L154,628.5 Z" stroke-width="1.15" fill="#fff" stroke="#fff"/>
<path d="M148,613 L150.5,614.5 L151,623.5 L148.5,622 Z" stroke-width="0.57" fill="#fff" stroke="#fff"/>
<path d="M174,614 L177,612.5 L176.5,623 L173.8,624.5 Z" stroke-width="0.57" fill="#fff" stroke="#fff"/>
<rect x="159" y="605.5" width="2.2" height="1" fill="#fff" stroke="none"/>
<rect x="164" y="605.5" width="2.2" height="1" fill="#fff" stroke="none"/>
<rect x="160" y="609" width="2.2" height="1" fill="#fff" stroke="none"/>
<rect x="165" y="609.5" width="2.2" height="1" fill="#fff" stroke="none"/>
<line x1="161.3" y1="578" x2="161.8" y2="606" stroke-width="1.72"/>
<path d="M189.0,588.0 C189.2,588.9 189.2,590.3 190.2,593.2 C191.2,596.1 192.6,600.9 194.8,605.2 C197.0,609.5 199.6,614.6 203.5,619.0 C207.4,623.4 212.3,627.3 218.4,631.8 C224.5,636.3 231.1,641.3 240.0,646.0 C248.9,650.7 255.3,655.7 272.0,660.0 C288.7,664.3 319.2,671.6 340.0,672.0 C360.8,672.4 381.7,665.8 396.7,662.6 C411.7,659.4 420.9,656.3 430.0,653.0 C439.1,649.7 444.7,646.8 451.0,643.0 C457.3,639.2 463.7,634.7 468.0,630.0 C472.3,625.3 474.7,620.0 477.0,615.0 C479.3,610.0 480.7,604.5 482.0,600.0 C483.3,595.5 484.5,590.0 485.0,588.0 L470,590 L200,585 Z" stroke-width="2.76" fill="white" />
<path d="M300.0,465.0 C279.4,465.5 280.9,474.5 275.0,477.5 C269.1,480.5 263.9,483.1 249.4,490.5 C234.9,497.9 162.9,534.3 150.5,540.6 C138.1,546.9 144.2,543.2 143.0,544.4 C141.8,545.6 140.8,549.5 140.6,551.0 C140.4,552.5 140.4,555.9 141.2,557.5 C142.0,559.1 144.1,562.7 147.4,565.1 C150.7,567.5 164.3,575.2 169.5,578.4 C174.7,581.6 186.5,589.3 191.7,592.4 C196.9,595.5 208.3,602.0 213.9,605.0 C219.5,608.0 232.3,614.5 240.0,618.3 C247.7,622.1 273.0,634.6 280.0,637.7 C287.0,640.9 293.0,642.9 300.0,645.3 C307.0,647.7 332.6,656.1 340.0,658.5 C347.4,660.9 359.3,664.5 363.5,665.5 C367.7,666.5 373.2,667.6 376.0,667.5 C378.8,667.4 384.3,666.1 387.3,664.5 C390.3,662.9 396.0,657.6 401.5,654.0 C407.0,650.4 426.8,638.1 434.5,633.5 C442.2,628.9 462.1,618.2 467.6,614.5 C473.1,610.8 479.5,605.1 481.8,601.5 C484.1,597.9 486.2,588.0 487.2,584.0 C488.2,580.0 489.8,570.8 490.2,567.0 C490.6,563.2 490.4,555.2 490.2,551.6 C490.0,548.0 489.4,541.1 488.7,536.3 C488.0,531.5 485.1,516.3 484.1,510.4 C483.1,504.5 480.6,489.7 479.8,486.0 C479.0,482.3 478.2,480.1 477.3,478.8 C476.4,477.5 474.9,475.2 471.9,474.6 C468.9,474.0 472.1,474.7 452.0,473.6 C431.9,472.5 320.6,464.5 300.0,465.0 Z" stroke-width="2.64" fill="white" />
<path d="M145.5,562.5 C146.0,563.0 145.7,564.1 149.0,566.5 C152.3,568.9 164.3,576.7 170.0,580.5 C175.7,584.3 186.1,591.3 192.0,595.0 C197.9,598.7 207.6,604.5 214.0,608.0 C220.4,611.5 231.2,617.1 240.0,621.5 C248.8,625.9 272.0,637.4 280.0,641.0 C288.0,644.6 292.0,646.0 300.0,648.8 C308.0,651.6 331.5,659.3 340.0,662.0 C348.5,664.7 358.4,667.9 363.5,669.0 C368.6,670.1 376.1,670.3 378.0,670.5" stroke-width="1.72" fill="none" />
<path d="M389.6,667.6 C393.4,665.4 409.5,656.2 418.0,651.0 C426.5,645.8 445.5,633.8 453.4,628.6 C461.3,623.4 472.9,615.8 477.0,612.0 C481.1,608.2 483.1,601.6 484.0,600.0" stroke-width="1.72" fill="none" />
<ellipse cx="160.7" cy="551.8" rx="10.3" ry="6.3" stroke-width="2.30" fill="white"/>
<ellipse cx="459.4" cy="487.2" rx="10.7" ry="6.4" stroke-width="2.30" fill="white"/>
<ellipse cx="371.9" cy="653.2" rx="10.6" ry="6.1" stroke-width="2.30" fill="white"/>
<path d="M196.2,532.8 C195.2,534.8 191.8,540.1 190.5,545.0 C189.2,549.9 188.5,556.7 188.7,562.2 C188.9,567.7 189.9,573.4 191.5,578.0 C193.1,582.6 195.6,586.8 198.0,590.0 C200.4,593.2 204.7,595.8 206.0,597.0" stroke-width="1.72" fill="none" />
<path d="M474.0,531.0 C474.9,533.3 478.1,539.8 479.5,545.0 C480.9,550.2 482.2,556.3 482.6,562.0 C483.0,567.7 482.8,573.9 482.0,579.0 C481.2,584.1 478.7,590.5 478.0,592.8" stroke-width="1.72" fill="none" />
<path d="M198.2,538.7 C197.9,541.4 196.5,549.1 196.2,555.0 C195.9,560.9 196.2,571.0 196.2,574.2" stroke-width="3.68" fill="none" />
<path d="M427.0,504.0 C430.0,505.8 439.5,511.2 445.0,515.0 C450.5,518.8 456.1,523.3 460.0,527.0 C463.9,530.7 467.1,535.3 468.5,537.0" stroke-width="7.36" fill="none" />
<path d="M427.0,504.0 C430.0,505.8 439.5,511.2 445.0,515.0 C450.5,518.8 456.1,523.3 460.0,527.0 C463.9,530.7 467.1,535.3 468.5,537.0" stroke-width="3.45" fill="none" stroke="#fff"/>
<path d="M462.0,530.0 C463.1,531.2 467.4,535.8 468.5,537.0" stroke-width="4.02" fill="none" />
<path d="M471.0,569.5 L470.8,573.3 L470.3,577.2 L469.4,581.0 L468.1,584.8 L466.5,588.5 L464.5,592.2 L462.2,595.8 L459.5,599.4 L456.5,602.9 L453.2,606.2 L449.5,609.5 L445.6,612.7 L441.4,615.8 L436.8,618.7 L432.0,621.5 L427.0,624.1 L421.7,626.6 L416.2,629.0 L410.4,631.1 L404.5,633.2 L398.4,635.0 L392.1,636.6 L385.7,638.1 L379.1,639.4 L372.4,640.5 L365.7,641.4 L358.8,642.1 L351.9,642.6 L345.0,642.9 L338.0,643.0 L331.0,642.9 L324.1,642.6 L317.2,642.1 L310.3,641.4 L303.6,640.5 L296.9,639.4 L290.3,638.1 L283.9,636.6 L277.6,635.0 L271.5,633.2 L265.6,631.1 L259.8,629.0 L254.3,626.6 L249.0,624.1 L244.0,621.5 L239.2,618.7 L234.6,615.8 L230.4,612.7 L226.5,609.5 L222.8,606.2 L219.5,602.9 L216.5,599.4 L213.8,595.8 L211.5,592.2 L209.5,588.5 L207.9,584.8 L206.6,581.0 L205.7,577.2 L205.2,573.3 L205.0,569.5 L205.2,565.7 L205.7,561.8 L206.6,558.0 L207.9,554.2 L209.5,550.5 L211.5,546.8 L213.8,543.2 L216.5,539.6 L219.5,536.1 L222.8,532.8 L226.5,529.5 L230.4,526.3 L234.6,523.2 L239.2,520.3 L244.0,517.5 L249.0,514.9 L254.3,512.4 L259.8,510.0 L265.6,507.9 L271.5,505.8 L277.6,504.0 L283.9,502.4 L290.3,500.9 L296.9,499.6 L303.6,498.5 L310.3,497.6 L317.2,496.9 L324.1,496.4 L331.0,496.1 L338.0,496.0 L345.0,496.1 L351.9,496.4 L358.8,496.9 L365.7,497.6 L372.4,498.5 L379.1,499.6 L385.7,500.9 L392.1,502.4 L398.4,504.0 L404.5,505.8 L410.4,507.9 L416.2,510.0 L421.7,512.4 L427.0,514.9 L432.0,517.5 L436.8,520.3 L441.4,523.2 L445.6,526.3 L449.5,529.5 L453.2,532.8 L456.5,536.1 L459.5,539.6 L462.2,543.2 L464.5,546.8 L466.5,550.5 L468.1,554.2 L469.4,558.0 L470.3,561.8 L470.8,565.7 L471.0,569.5" stroke-width="2.76" fill="none" />
<path d="M466.5,569.5 L466.3,573.2 L465.8,576.8 L464.9,580.5 L463.7,584.1 L462.2,587.6 L460.3,591.1 L458.1,594.6 L455.6,598.0 L452.7,601.3 L449.6,604.5 L446.1,607.6 L442.3,610.6 L438.3,613.6 L434.0,616.3 L429.4,619.0 L424.6,621.5 L419.6,623.9 L414.4,626.1 L408.9,628.2 L403.2,630.1 L397.4,631.9 L391.5,633.4 L385.3,634.9 L379.1,636.1 L372.7,637.1 L366.3,638.0 L359.8,638.6 L353.2,639.1 L346.6,639.4 L340.0,639.5 L333.4,639.4 L326.8,639.1 L320.2,638.6 L313.7,638.0 L307.3,637.1 L300.9,636.1 L294.7,634.9 L288.5,633.4 L282.6,631.9 L276.8,630.1 L271.1,628.2 L265.6,626.1 L260.4,623.9 L255.4,621.5 L250.6,619.0 L246.0,616.3 L241.7,613.6 L237.7,610.6 L233.9,607.6 L230.4,604.5 L227.3,601.3 L224.4,598.0 L221.9,594.6 L219.7,591.1 L217.8,587.6 L216.3,584.1 L215.1,580.5 L214.2,576.8 L213.7,573.2 L213.5,569.5 L213.7,565.8 L214.2,562.2 L215.1,558.5 L216.3,554.9 L217.8,551.4 L219.7,547.9 L221.9,544.4 L224.4,541.0 L227.3,537.7 L230.4,534.5 L233.9,531.4 L237.7,528.4 L241.7,525.4 L246.0,522.7 L250.6,520.0 L255.4,517.5 L260.4,515.1 L265.6,512.9 L271.1,510.8 L276.7,508.9 L282.6,507.1 L288.5,505.6 L294.7,504.1 L300.9,502.9 L307.3,501.9 L313.7,501.0 L320.2,500.4 L326.8,499.9 L333.4,499.6 L340.0,499.5 L346.6,499.6 L353.2,499.9 L359.8,500.4 L366.3,501.0 L372.7,501.9 L379.1,502.9 L385.3,504.1 L391.5,505.6 L397.4,507.1 L403.2,508.9 L408.9,510.8 L414.4,512.9 L419.6,515.1 L424.6,517.5 L429.4,520.0 L434.0,522.7 L438.3,525.4 L442.3,528.4 L446.1,531.4 L449.6,534.5 L452.7,537.7 L455.6,541.0 L458.1,544.4 L460.3,547.9 L462.2,551.4 L463.7,554.9 L464.9,558.5 L465.8,562.2 L466.3,565.8 L466.5,569.5" stroke-width="2.30" fill="none" />
<path d="M452.5,570.0 L452.3,573.1 L451.9,576.3 L451.1,579.4 L450.1,582.5 L448.7,585.5 L447.1,588.5 L445.2,591.5 L442.9,594.4 L440.5,597.2 L437.7,600.0 L434.7,602.7 L431.4,605.3 L427.9,607.8 L424.1,610.1 L420.1,612.4 L415.9,614.6 L411.5,616.6 L407.0,618.5 L402.2,620.3 L397.2,622.0 L392.2,623.5 L386.9,624.8 L381.6,626.0 L376.1,627.1 L370.6,628.0 L365.0,628.7 L359.3,629.3 L353.6,629.7 L347.8,629.9 L342.0,630.0 L336.2,629.9 L330.4,629.7 L324.7,629.3 L319.0,628.7 L313.4,628.0 L307.9,627.1 L302.4,626.0 L297.1,624.8 L291.8,623.5 L286.8,622.0 L281.8,620.3 L277.0,618.5 L272.5,616.6 L268.1,614.6 L263.9,612.4 L259.9,610.1 L256.1,607.8 L252.6,605.3 L249.3,602.7 L246.3,600.0 L243.5,597.2 L241.1,594.4 L238.8,591.5 L236.9,588.5 L235.3,585.5 L233.9,582.5 L232.9,579.4 L232.1,576.3 L231.7,573.1 L231.5,570.0 L231.7,566.9 L232.1,563.7 L232.9,560.6 L233.9,557.5 L235.3,554.5 L236.9,551.5 L238.8,548.5 L241.1,545.6 L243.5,542.8 L246.3,540.0 L249.3,537.3 L252.6,534.7 L256.1,532.2 L259.9,529.9 L263.9,527.6 L268.1,525.4 L272.5,523.4 L277.0,521.5 L281.8,519.7 L286.7,518.0 L291.8,516.5 L297.1,515.2 L302.4,514.0 L307.9,512.9 L313.4,512.0 L319.0,511.3 L324.7,510.7 L330.4,510.3 L336.2,510.1 L342.0,510.0 L347.8,510.1 L353.6,510.3 L359.3,510.7 L365.0,511.3 L370.6,512.0 L376.1,512.9 L381.6,514.0 L386.9,515.2 L392.2,516.5 L397.2,518.0 L402.2,519.7 L407.0,521.5 L411.5,523.4 L415.9,525.4 L420.1,527.6 L424.1,529.9 L427.9,532.2 L431.4,534.7 L434.7,537.3 L437.7,540.0 L440.5,542.8 L442.9,545.6 L445.2,548.5 L447.1,551.5 L448.7,554.5 L450.1,557.5 L451.1,560.6 L451.9,563.7 L452.3,566.9 L452.5,570.0" stroke-width="2.30" fill="none" />
<path d="M446.0,571.0 L445.9,574.0 L445.4,576.9 L444.7,579.8 L443.7,582.7 L442.5,585.6 L440.9,588.5 L439.1,591.2 L437.0,594.0 L434.7,596.7 L432.1,599.2 L429.2,601.8 L426.1,604.2 L422.8,606.6 L419.3,608.8 L415.5,611.0 L411.6,613.0 L407.4,614.9 L403.1,616.7 L398.6,618.4 L394.0,619.9 L389.2,621.3 L384.3,622.6 L379.3,623.7 L374.1,624.7 L368.9,625.6 L363.6,626.3 L358.3,626.8 L352.9,627.2 L347.4,627.4 L342.0,627.5 L336.6,627.4 L331.1,627.2 L325.7,626.8 L320.4,626.3 L315.1,625.6 L309.9,624.7 L304.7,623.7 L299.7,622.6 L294.8,621.3 L290.0,619.9 L285.4,618.4 L280.9,616.7 L276.6,614.9 L272.4,613.0 L268.5,611.0 L264.7,608.8 L261.2,606.6 L257.9,604.2 L254.8,601.8 L251.9,599.2 L249.3,596.7 L247.0,594.0 L244.9,591.2 L243.1,588.5 L241.5,585.6 L240.3,582.7 L239.3,579.8 L238.6,576.9 L238.1,574.0 L238.0,571.0 L238.1,568.0 L238.6,565.1 L239.3,562.2 L240.3,559.3 L241.5,556.4 L243.1,553.5 L244.9,550.8 L247.0,548.0 L249.3,545.3 L251.9,542.8 L254.8,540.2 L257.9,537.8 L261.2,535.4 L264.7,533.2 L268.5,531.0 L272.4,529.0 L276.6,527.1 L280.9,525.3 L285.4,523.6 L290.0,522.1 L294.8,520.7 L299.7,519.4 L304.7,518.3 L309.9,517.3 L315.1,516.4 L320.4,515.7 L325.7,515.2 L331.1,514.8 L336.6,514.6 L342.0,514.5 L347.4,514.6 L352.9,514.8 L358.3,515.2 L363.6,515.7 L368.9,516.4 L374.1,517.3 L379.3,518.3 L384.3,519.4 L389.2,520.7 L394.0,522.1 L398.6,523.6 L403.1,525.3 L407.4,527.1 L411.6,529.0 L415.5,531.0 L419.3,533.2 L422.8,535.4 L426.1,537.8 L429.2,540.2 L432.1,542.8 L434.7,545.3 L437.0,548.0 L439.1,550.8 L440.9,553.5 L442.5,556.4 L443.7,559.3 L444.7,562.2 L445.4,565.1 L445.9,568.0 L446.0,571.0" stroke-width="1.72" fill="none" />
<path d="M430.0,570.5 L429.9,573.1 L429.5,575.7 L428.9,578.2 L428.1,580.8 L427.0,583.3 L425.7,585.8 L424.2,588.2 L422.4,590.6 L420.4,593.0 L418.2,595.2 L415.8,597.5 L413.2,599.6 L410.4,601.7 L407.4,603.6 L404.2,605.5 L400.9,607.3 L397.4,609.0 L393.7,610.5 L389.9,612.0 L386.0,613.4 L382.0,614.6 L377.8,615.7 L373.5,616.7 L369.2,617.6 L364.8,618.3 L360.3,618.9 L355.8,619.4 L351.2,619.7 L346.6,619.9 L342.0,620.0 L337.4,619.9 L332.8,619.7 L328.2,619.4 L323.7,618.9 L319.2,618.3 L314.8,617.6 L310.5,616.7 L306.2,615.7 L302.0,614.6 L298.0,613.4 L294.1,612.0 L290.3,610.5 L286.6,609.0 L283.1,607.3 L279.8,605.5 L276.6,603.6 L273.6,601.7 L270.8,599.6 L268.2,597.5 L265.8,595.2 L263.6,593.0 L261.6,590.6 L259.8,588.2 L258.3,585.8 L257.0,583.3 L255.9,580.8 L255.1,578.2 L254.5,575.7 L254.1,573.1 L254.0,570.5 L254.1,567.9 L254.5,565.3 L255.1,562.8 L255.9,560.2 L257.0,557.7 L258.3,555.2 L259.8,552.8 L261.6,550.4 L263.6,548.0 L265.8,545.8 L268.2,543.5 L270.8,541.4 L273.6,539.3 L276.6,537.4 L279.8,535.5 L283.1,533.7 L286.6,532.0 L290.3,530.5 L294.1,529.0 L298.0,527.6 L302.0,526.4 L306.2,525.3 L310.5,524.3 L314.8,523.4 L319.2,522.7 L323.7,522.1 L328.2,521.6 L332.8,521.3 L337.4,521.1 L342.0,521.0 L346.6,521.1 L351.2,521.3 L355.8,521.6 L360.3,522.1 L364.8,522.7 L369.2,523.4 L373.5,524.3 L377.8,525.3 L382.0,526.4 L386.0,527.6 L389.9,529.0 L393.7,530.5 L397.4,532.0 L400.9,533.7 L404.2,535.5 L407.4,537.4 L410.4,539.3 L413.2,541.4 L415.8,543.5 L418.2,545.8 L420.4,548.0 L422.4,550.4 L424.2,552.8 L425.7,555.2 L427.0,557.7 L428.1,560.2 L428.9,562.8 L429.5,565.3 L429.9,567.9 L430.0,570.5" stroke-width="2.30" fill="none" />
<path d="M425.0,571.0 L424.9,573.4 L424.5,575.7 L424.0,578.0 L423.2,580.4 L422.2,582.6 L420.9,584.9 L419.5,587.1 L417.8,589.3 L416.0,591.4 L413.9,593.5 L411.6,595.5 L409.1,597.5 L406.5,599.3 L403.7,601.1 L400.7,602.8 L397.5,604.4 L394.2,606.0 L390.8,607.4 L387.2,608.7 L383.5,610.0 L379.7,611.1 L375.8,612.1 L371.7,613.0 L367.6,613.8 L363.5,614.5 L359.3,615.0 L355.0,615.4 L350.7,615.8 L346.3,615.9 L342.0,616.0 L337.7,615.9 L333.3,615.8 L329.0,615.4 L324.7,615.0 L320.5,614.5 L316.4,613.8 L312.3,613.0 L308.2,612.1 L304.3,611.1 L300.5,610.0 L296.8,608.7 L293.2,607.4 L289.8,606.0 L286.5,604.4 L283.3,602.8 L280.3,601.1 L277.5,599.3 L274.9,597.5 L272.4,595.5 L270.1,593.5 L268.0,591.4 L266.2,589.3 L264.5,587.1 L263.1,584.9 L261.8,582.6 L260.8,580.4 L260.0,578.0 L259.5,575.7 L259.1,573.4 L259.0,571.0 L259.1,568.6 L259.5,566.3 L260.0,564.0 L260.8,561.6 L261.8,559.4 L263.1,557.1 L264.5,554.9 L266.2,552.7 L268.0,550.6 L270.1,548.5 L272.4,546.5 L274.9,544.5 L277.5,542.7 L280.3,540.9 L283.3,539.2 L286.5,537.6 L289.8,536.0 L293.2,534.6 L296.8,533.3 L300.5,532.0 L304.3,530.9 L308.2,529.9 L312.3,529.0 L316.4,528.2 L320.5,527.5 L324.7,527.0 L329.0,526.6 L333.3,526.2 L337.7,526.1 L342.0,526.0 L346.3,526.1 L350.7,526.2 L355.0,526.6 L359.3,527.0 L363.5,527.5 L367.6,528.2 L371.7,529.0 L375.8,529.9 L379.7,530.9 L383.5,532.0 L387.2,533.3 L390.8,534.6 L394.2,536.0 L397.5,537.6 L400.7,539.2 L403.7,540.9 L406.5,542.7 L409.1,544.5 L411.6,546.5 L413.9,548.5 L416.0,550.6 L417.8,552.7 L419.5,554.9 L420.9,557.1 L422.2,559.4 L423.2,561.6 L424.0,564.0 L424.5,566.3 L424.9,568.6 L425.0,571.0" stroke-width="1.72" fill="none" />
<path d="M419.0,572.0 L418.9,574.2 L418.6,576.3 L418.1,578.5 L417.3,580.6 L416.4,582.7 L415.2,584.8 L413.9,586.9 L412.3,588.9 L410.6,590.8 L408.7,592.8 L406.6,594.6 L404.3,596.4 L401.8,598.1 L399.2,599.8 L396.4,601.3 L393.5,602.8 L390.5,604.3 L387.3,605.6 L383.9,606.8 L380.5,607.9 L377.0,609.0 L373.3,609.9 L369.6,610.7 L365.8,611.5 L361.9,612.1 L358.0,612.6 L354.0,613.0 L350.0,613.3 L346.0,613.4 L342.0,613.5 L338.0,613.4 L334.0,613.3 L330.0,613.0 L326.0,612.6 L322.1,612.1 L318.2,611.5 L314.4,610.7 L310.7,609.9 L307.0,609.0 L303.5,607.9 L300.1,606.8 L296.7,605.6 L293.5,604.3 L290.5,602.8 L287.6,601.3 L284.8,599.8 L282.2,598.1 L279.7,596.4 L277.4,594.6 L275.3,592.8 L273.4,590.8 L271.7,588.9 L270.1,586.9 L268.8,584.8 L267.6,582.7 L266.7,580.6 L265.9,578.5 L265.4,576.3 L265.1,574.2 L265.0,572.0 L265.1,569.8 L265.4,567.7 L265.9,565.5 L266.7,563.4 L267.6,561.3 L268.8,559.2 L270.1,557.1 L271.7,555.1 L273.4,553.2 L275.3,551.2 L277.4,549.4 L279.7,547.6 L282.2,545.9 L284.8,544.2 L287.6,542.7 L290.5,541.2 L293.5,539.7 L296.7,538.4 L300.1,537.2 L303.5,536.1 L307.0,535.0 L310.7,534.1 L314.4,533.3 L318.2,532.5 L322.1,531.9 L326.0,531.4 L330.0,531.0 L334.0,530.7 L338.0,530.6 L342.0,530.5 L346.0,530.6 L350.0,530.7 L354.0,531.0 L358.0,531.4 L361.9,531.9 L365.8,532.5 L369.6,533.3 L373.3,534.1 L377.0,535.0 L380.5,536.1 L383.9,537.2 L387.3,538.4 L390.5,539.7 L393.5,541.2 L396.4,542.7 L399.2,544.2 L401.8,545.9 L404.3,547.6 L406.6,549.4 L408.7,551.2 L410.6,553.2 L412.3,555.1 L413.9,557.1 L415.2,559.2 L416.4,561.3 L417.3,563.4 L418.1,565.5 L418.6,567.7 L418.9,569.8 L419.0,572.0" stroke-width="2.30" fill="none" />
<path d="M413.0,573.0 L412.9,575.0 L412.6,576.9 L412.1,578.9 L411.4,580.8 L410.6,582.7 L409.5,584.6 L408.3,586.4 L406.9,588.3 L405.3,590.0 L403.5,591.8 L401.5,593.4 L399.4,595.0 L397.2,596.6 L394.8,598.1 L392.2,599.5 L389.5,600.9 L386.7,602.1 L383.7,603.3 L380.7,604.5 L377.5,605.5 L374.2,606.4 L370.9,607.3 L367.4,608.0 L363.9,608.7 L360.4,609.2 L356.8,609.7 L353.1,610.0 L349.4,610.3 L345.7,610.4 L342.0,610.5 L338.3,610.4 L334.6,610.3 L330.9,610.0 L327.2,609.7 L323.6,609.2 L320.1,608.7 L316.6,608.0 L313.1,607.3 L309.8,606.4 L306.5,605.5 L303.3,604.5 L300.3,603.3 L297.3,602.1 L294.5,600.9 L291.8,599.5 L289.2,598.1 L286.8,596.6 L284.6,595.0 L282.5,593.4 L280.5,591.8 L278.7,590.0 L277.1,588.3 L275.7,586.4 L274.5,584.6 L273.4,582.7 L272.6,580.8 L271.9,578.9 L271.4,576.9 L271.1,575.0 L271.0,573.0 L271.1,571.0 L271.4,569.1 L271.9,567.1 L272.6,565.2 L273.4,563.3 L274.5,561.4 L275.7,559.6 L277.1,557.7 L278.7,556.0 L280.5,554.2 L282.5,552.6 L284.6,551.0 L286.8,549.4 L289.2,547.9 L291.8,546.5 L294.5,545.1 L297.3,543.9 L300.3,542.7 L303.3,541.5 L306.5,540.5 L309.8,539.6 L313.1,538.7 L316.6,538.0 L320.1,537.3 L323.6,536.8 L327.2,536.3 L330.9,536.0 L334.6,535.7 L338.3,535.6 L342.0,535.5 L345.7,535.6 L349.4,535.7 L353.1,536.0 L356.8,536.3 L360.4,536.8 L363.9,537.3 L367.4,538.0 L370.9,538.7 L374.2,539.6 L377.5,540.5 L380.7,541.5 L383.7,542.7 L386.7,543.9 L389.5,545.1 L392.2,546.5 L394.8,547.9 L397.2,549.4 L399.4,551.0 L401.5,552.6 L403.5,554.2 L405.3,556.0 L406.9,557.7 L408.3,559.6 L409.5,561.4 L410.6,563.3 L411.4,565.2 L412.1,567.1 L412.6,569.1 L412.9,571.0 L413.0,573.0" stroke-width="2.30" fill="none" />
<path d="M259.0,538.0 C261.7,536.9 268.8,533.3 275.0,531.5 C281.2,529.7 292.5,527.8 296.0,527.0" stroke-width="7.59" fill="none" />
<path d="M259.0,538.0 C261.7,536.9 268.8,533.3 275.0,531.5 C281.2,529.7 292.5,527.8 296.0,527.0" stroke-width="3.68" fill="none" stroke="#fff"/>
<path d="M384.7,527.3 C388.1,527.9 399.1,529.0 405.0,530.7 C410.9,532.4 417.8,536.4 420.4,537.5" stroke-width="7.59" fill="none" />
<path d="M384.7,527.3 C388.1,527.9 399.1,529.0 405.0,530.7 C410.9,532.4 417.8,536.4 420.4,537.5" stroke-width="3.68" fill="none" stroke="#fff"/>
<path d="M252.2,545.3 C251.1,548.2 246.8,557.2 245.4,563.0 C244.0,568.8 243.6,575.2 243.7,580.0 C243.8,584.8 245.6,589.8 246.0,591.8" stroke-width="7.59" fill="none" />
<path d="M252.2,545.3 C251.1,548.2 246.8,557.2 245.4,563.0 C244.0,568.8 243.6,575.2 243.7,580.0 C243.8,584.8 245.6,589.8 246.0,591.8" stroke-width="3.68" fill="none" stroke="#fff"/>
<path d="M428.9,545.3 C430.3,548.2 435.7,557.2 437.4,563.0 C439.1,568.8 439.0,575.2 439.0,580.0 C439.0,584.8 437.7,589.8 437.4,591.8" stroke-width="7.59" fill="none" />
<path d="M428.9,545.3 C430.3,548.2 435.7,557.2 437.4,563.0 C439.1,568.8 439.0,575.2 439.0,580.0 C439.0,584.8 437.7,589.8 437.4,591.8" stroke-width="3.68" fill="none" stroke="#fff"/>
<path d="M267.5,624.0 C272.9,624.5 288.5,626.5 299.8,626.8 C311.1,627.1 329.5,626.0 335.4,625.8" stroke-width="7.59" fill="none" />
<path d="M267.5,624.0 C272.9,624.5 288.5,626.5 299.8,626.8 C311.1,627.1 329.5,626.0 335.4,625.8" stroke-width="3.68" fill="none" stroke="#fff"/>
<path d="M350.7,625.8 C356.4,626.0 373.1,627.2 384.7,626.8 C396.3,626.4 414.4,624.0 420.4,623.4" stroke-width="7.59" fill="none" />
<path d="M350.7,625.8 C356.4,626.0 373.1,627.2 384.7,626.8 C396.3,626.4 414.4,624.0 420.4,623.4" stroke-width="3.68" fill="none" stroke="#fff"/>
<ellipse cx="341.5" cy="508.4" rx="7.8" ry="5.2" stroke-width="2.18" fill="white"/>
<path d="M337.0,509.2 L337.0,509.1 L337.0,508.9 L337.1,508.8 L337.1,508.7 L337.2,508.5 L337.2,508.4 L337.3,508.3 L337.4,508.1 L337.5,508.0 L337.6,507.9 L337.7,507.8 L337.9,507.7 L338.0,507.6 L338.2,507.5 L338.3,507.4 L338.5,507.3 L338.7,507.2 L338.9,507.1 L339.0,507.0 L339.2,506.9 L339.5,506.9 L339.7,506.8 L339.9,506.8 L340.1,506.7 L340.3,506.7 L340.6,506.7 L340.8,506.6 L341.0,506.6 L341.3,506.6 L341.5,506.6 L341.7,506.6 L342.0,506.6 L342.2,506.6 L342.4,506.7 L342.7,506.7 L342.9,506.7 L343.1,506.8 L343.3,506.8 L343.5,506.9 L343.8,506.9 L344.0,507.0 L344.1,507.1 L344.3,507.2 L344.5,507.3 L344.7,507.4 L344.8,507.5 L345.0,507.6 L345.1,507.7 L345.3,507.8 L345.4,507.9 L345.5,508.0 L345.6,508.1 L345.7,508.3 L345.8,508.4 L345.8,508.5 L345.9,508.7 L345.9,508.8 L346.0,508.9 L346.0,509.1 L346.0,509.2" stroke-width="1.38" fill="none" />
<ellipse cx="247" cy="600" rx="7.8" ry="5.2" stroke-width="2.18" fill="white"/>
<path d="M242.5,600.8 L242.5,600.7 L242.5,600.5 L242.6,600.4 L242.6,600.3 L242.7,600.1 L242.7,600.0 L242.8,599.9 L242.9,599.7 L243.0,599.6 L243.1,599.5 L243.2,599.4 L243.4,599.3 L243.5,599.2 L243.7,599.1 L243.8,599.0 L244.0,598.9 L244.2,598.8 L244.4,598.7 L244.5,598.6 L244.8,598.5 L245.0,598.5 L245.2,598.4 L245.4,598.4 L245.6,598.3 L245.8,598.3 L246.1,598.3 L246.3,598.2 L246.5,598.2 L246.8,598.2 L247.0,598.2 L247.2,598.2 L247.5,598.2 L247.7,598.2 L247.9,598.3 L248.2,598.3 L248.4,598.3 L248.6,598.4 L248.8,598.4 L249.0,598.5 L249.2,598.5 L249.5,598.6 L249.6,598.7 L249.8,598.8 L250.0,598.9 L250.2,599.0 L250.3,599.1 L250.5,599.2 L250.6,599.3 L250.8,599.4 L250.9,599.5 L251.0,599.6 L251.1,599.7 L251.2,599.9 L251.3,600.0 L251.3,600.1 L251.4,600.3 L251.4,600.4 L251.5,600.5 L251.5,600.7 L251.5,600.8" stroke-width="1.38" fill="none" />
<ellipse cx="436" cy="600" rx="7.8" ry="5.2" stroke-width="2.18" fill="white"/>
<path d="M431.5,600.8 L431.5,600.7 L431.5,600.5 L431.6,600.4 L431.6,600.3 L431.7,600.1 L431.7,600.0 L431.8,599.9 L431.9,599.7 L432.0,599.6 L432.1,599.5 L432.2,599.4 L432.4,599.3 L432.5,599.2 L432.7,599.1 L432.8,599.0 L433.0,598.9 L433.2,598.8 L433.4,598.7 L433.5,598.6 L433.8,598.5 L434.0,598.5 L434.2,598.4 L434.4,598.4 L434.6,598.3 L434.8,598.3 L435.1,598.3 L435.3,598.2 L435.5,598.2 L435.8,598.2 L436.0,598.2 L436.2,598.2 L436.5,598.2 L436.7,598.2 L436.9,598.3 L437.2,598.3 L437.4,598.3 L437.6,598.4 L437.8,598.4 L438.0,598.5 L438.2,598.5 L438.5,598.6 L438.6,598.7 L438.8,598.8 L439.0,598.9 L439.2,599.0 L439.3,599.1 L439.5,599.2 L439.6,599.3 L439.8,599.4 L439.9,599.5 L440.0,599.6 L440.1,599.7 L440.2,599.9 L440.3,600.0 L440.3,600.1 L440.4,600.3 L440.4,600.4 L440.5,600.5 L440.5,600.7 L440.5,600.8" stroke-width="1.38" fill="none" />
<line x1="282.4" y1="585.8" x2="307.2" y2="556.9" stroke-width="2.07"/>
<line x1="343.4" y1="536.2" x2="373.4" y2="565.2" stroke-width="2.07"/>
<line x1="325.8" y1="600.3" x2="394" y2="596" stroke-width="2.07"/>
<line x1="286" y1="587" x2="309.5" y2="559.5" stroke-width="1.38"/>
<line x1="347.5" y1="535.5" x2="376" y2="561.5" stroke-width="2.07"/>
<line x1="329" y1="603.5" x2="395" y2="599" stroke-width="1.38"/>
<ellipse cx="341.4" cy="575.5" rx="40.4" ry="22.7" stroke-width="2.30" fill="white"/>
<path d="M307.6,583.0 L308.1,582.2 L308.7,581.4 L309.4,580.7 L310.2,580.0 L311.1,579.2 L312.0,578.6 L313.1,577.9 L314.2,577.2 L315.4,576.6 L316.7,576.0 L318.0,575.5 L319.4,575.0 L320.8,574.5 L322.3,574.0 L323.9,573.6 L325.5,573.2 L327.2,572.8 L328.9,572.5 L330.6,572.3 L332.3,572.0 L334.1,571.8 L335.9,571.7 L337.7,571.6 L339.6,571.5 L341.4,571.5 L343.2,571.5 L345.1,571.6 L346.9,571.7 L348.7,571.8 L350.5,572.0 L352.2,572.3 L353.9,572.5 L355.6,572.8 L357.3,573.2 L358.9,573.6 L360.5,574.0 L362.0,574.5 L363.4,575.0 L364.8,575.5 L366.1,576.0 L367.4,576.6 L368.6,577.2 L369.7,577.9 L370.8,578.6 L371.7,579.2 L372.6,580.0 L373.4,580.7 L374.1,581.4 L374.7,582.2 L375.2,583.0" stroke-width="2.07" fill="none" />
<path d="M310.4,585.2 L311.0,584.5 L311.8,583.8 L312.6,583.2 L313.5,582.5 L314.4,581.9 L315.5,581.3 L316.6,580.8 L317.8,580.2 L319.1,579.7 L320.4,579.2 L321.8,578.7 L323.2,578.3 L324.7,577.9 L326.2,577.6 L327.8,577.2 L329.4,577.0 L331.1,576.7 L332.7,576.5 L334.4,576.3 L336.2,576.2 L337.9,576.1 L339.6,576.0 L341.4,576.0 L343.2,576.0 L344.9,576.1 L346.6,576.2 L348.4,576.3 L350.1,576.5 L351.7,576.7 L353.4,577.0 L355.0,577.2 L356.6,577.6 L358.1,577.9 L359.6,578.3 L361.0,578.7 L362.4,579.2 L363.7,579.7 L365.0,580.2 L366.2,580.8 L367.3,581.3 L368.4,581.9 L369.3,582.5 L370.2,583.2 L371.0,583.8 L371.8,584.5 L372.4,585.2" stroke-width="1.61" fill="none" />
<ellipse cx="345.5" cy="588.5" rx="28" ry="8.5" stroke-width="2.07" fill="white"/>
<path d="M302.0,575.0 C301.8,576.8 302.3,581.4 303.5,584.0 C304.7,586.6 306.8,588.8 309.0,590.5 C311.2,592.2 315.0,594.1 317.0,594.5 C319.0,594.9 320.8,594.2 321.0,593.0 C321.2,591.8 319.0,589.0 318.5,587.0 C318.0,585.0 319.1,582.6 318.0,581.0 C316.9,579.4 314.2,578.8 312.0,577.5 C309.8,576.2 306.7,573.4 305.0,573.0 C303.3,572.6 302.2,573.2 302.0,575.0 Z" stroke-width="1.15" fill="#000" />
<ellipse cx="295" cy="556.5" rx="13.5" ry="8" stroke-width="2.07" fill="white"/>
<ellipse cx="386" cy="556" rx="13" ry="8.5" stroke-width="2.07" fill="white"/>
<ellipse cx="338.5" cy="604" rx="13" ry="7.5" stroke-width="2.07" fill="white"/>
<ellipse cx="292" cy="556" rx="6.2" ry="4.3" stroke-width="2.07" fill="white"/>
<path d="M288.6,556.8 L288.6,556.7 L288.6,556.6 L288.6,556.5 L288.7,556.4 L288.7,556.3 L288.8,556.2 L288.8,556.1 L288.9,556.0 L289.0,555.9 L289.1,555.8 L289.1,555.7 L289.2,555.6 L289.4,555.5 L289.5,555.5 L289.6,555.4 L289.7,555.3 L289.9,555.2 L290.0,555.2 L290.1,555.1 L290.3,555.1 L290.5,555.0 L290.6,555.0 L290.8,554.9 L290.9,554.9 L291.1,554.9 L291.3,554.8 L291.5,554.8 L291.6,554.8 L291.8,554.8 L292.0,554.8 L292.2,554.8 L292.4,554.8 L292.5,554.8 L292.7,554.8 L292.9,554.9 L293.1,554.9 L293.2,554.9 L293.4,555.0 L293.5,555.0 L293.7,555.1 L293.9,555.1 L294.0,555.2 L294.1,555.2 L294.3,555.3 L294.4,555.4 L294.5,555.5 L294.6,555.5 L294.8,555.6 L294.9,555.7 L294.9,555.8 L295.0,555.9 L295.1,556.0 L295.2,556.1 L295.2,556.2 L295.3,556.3 L295.3,556.4 L295.4,556.5 L295.4,556.6 L295.4,556.7 L295.4,556.8" stroke-width="1.26" fill="none" />
<ellipse cx="387" cy="556" rx="6.2" ry="4.3" stroke-width="2.07" fill="white"/>
<path d="M383.6,556.8 L383.6,556.7 L383.6,556.6 L383.6,556.5 L383.7,556.4 L383.7,556.3 L383.8,556.2 L383.8,556.1 L383.9,556.0 L384.0,555.9 L384.1,555.8 L384.1,555.7 L384.2,555.6 L384.4,555.5 L384.5,555.5 L384.6,555.4 L384.7,555.3 L384.9,555.2 L385.0,555.2 L385.1,555.1 L385.3,555.1 L385.5,555.0 L385.6,555.0 L385.8,554.9 L385.9,554.9 L386.1,554.9 L386.3,554.8 L386.5,554.8 L386.6,554.8 L386.8,554.8 L387.0,554.8 L387.2,554.8 L387.4,554.8 L387.5,554.8 L387.7,554.8 L387.9,554.9 L388.1,554.9 L388.2,554.9 L388.4,555.0 L388.5,555.0 L388.7,555.1 L388.9,555.1 L389.0,555.2 L389.1,555.2 L389.3,555.3 L389.4,555.4 L389.5,555.5 L389.6,555.5 L389.8,555.6 L389.9,555.7 L389.9,555.8 L390.0,555.9 L390.1,556.0 L390.2,556.1 L390.2,556.2 L390.3,556.3 L390.3,556.4 L390.4,556.5 L390.4,556.6 L390.4,556.7 L390.4,556.8" stroke-width="1.26" fill="none" />
<ellipse cx="339" cy="604.5" rx="6.2" ry="4.3" stroke-width="2.07" fill="white"/>
<path d="M335.6,605.3 L335.6,605.2 L335.6,605.1 L335.6,605.0 L335.7,604.9 L335.7,604.8 L335.8,604.7 L335.8,604.6 L335.9,604.5 L336.0,604.4 L336.1,604.3 L336.1,604.2 L336.2,604.1 L336.4,604.0 L336.5,604.0 L336.6,603.9 L336.7,603.8 L336.9,603.7 L337.0,603.7 L337.1,603.6 L337.3,603.6 L337.5,603.5 L337.6,603.5 L337.8,603.4 L337.9,603.4 L338.1,603.4 L338.3,603.3 L338.5,603.3 L338.6,603.3 L338.8,603.3 L339.0,603.3 L339.2,603.3 L339.4,603.3 L339.5,603.3 L339.7,603.3 L339.9,603.4 L340.1,603.4 L340.2,603.4 L340.4,603.5 L340.5,603.5 L340.7,603.6 L340.9,603.6 L341.0,603.7 L341.1,603.7 L341.3,603.8 L341.4,603.9 L341.5,604.0 L341.6,604.0 L341.8,604.1 L341.9,604.2 L341.9,604.3 L342.0,604.4 L342.1,604.5 L342.2,604.6 L342.2,604.7 L342.3,604.8 L342.3,604.9 L342.4,605.0 L342.4,605.1 L342.4,605.2 L342.4,605.3" stroke-width="1.26" fill="none" />
<line x1="160.3" y1="532" x2="160.7" y2="545" stroke-width="1.61"/>
<path d="M142.6,421 A16,6 0 0 1 174.6,421 L175,475 A16,6.5 0 0 1 143,475 Z" stroke-width="1.15" fill="#000" />
<rect x="145.5" y="418.8" width="25.2" height="5.6" rx="4.5" ry="2.8" fill="#fff" stroke="none"/>
<rect x="149" y="426" width="19.6" height="3.3" rx="2.6" ry="1.7" fill="#fff" stroke="none"/>
<rect x="146.3" y="433.8" width="21.1" height="5.2" rx="4.2" ry="2.6" fill="#fff" stroke="none"/>
<rect x="147" y="442.7" width="21.2" height="5.3" rx="4.2" ry="2.7" fill="#fff" stroke="none"/>
<rect x="146.3" y="452" width="21.9" height="6.5" rx="5.2" ry="3.2" fill="#fff" stroke="none"/>
<rect x="146.3" y="461.7" width="21.1" height="4.9" rx="3.9" ry="2.5" fill="#fff" stroke="none"/>
<rect x="146.3" y="470.6" width="26.0" height="7.4" rx="5.9" ry="3.7" fill="#fff" stroke="none"/>
<line x1="158.6" y1="405" x2="158.6" y2="431" stroke-width="1.84"/>
<path d="M190.3,388.0 L190.5,384.3 L191.1,380.7 L192.1,377.0 L193.6,373.4 L195.4,369.9 L197.7,366.4 L200.3,362.9 L203.3,359.5 L206.7,356.2 L210.4,353.0 L214.5,349.9 L219.0,346.9 L223.8,343.9 L228.9,341.2 L234.3,338.5 L240.0,336.0 L246.0,333.6 L252.2,331.4 L258.7,329.3 L265.4,327.4 L272.3,325.6 L279.4,324.1 L286.7,322.6 L294.1,321.4 L301.6,320.4 L309.3,319.5 L317.0,318.9 L324.8,318.4 L332.6,318.1 L340.5,318.0 L348.4,318.1 L356.2,318.4 L364.0,318.9 L371.7,319.5 L379.4,320.4 L386.9,321.4 L394.3,322.6 L401.6,324.1 L408.7,325.6 L415.6,327.4 L422.3,329.3 L428.8,331.4 L435.0,333.6 L441.0,336.0 L446.7,338.5 L452.1,341.2 L457.2,343.9 L462.0,346.9 L466.5,349.9 L470.6,353.0 L474.3,356.2 L477.7,359.5 L480.7,362.9 L483.3,366.4 L485.6,369.9 L487.4,373.4 L488.9,377.0 L489.9,380.7 L490.5,384.3 L490.7,388.0 L490.7,414.0 L490.5,418.3 L489.9,422.6 L488.9,426.8 L487.4,431.0 L485.6,435.2 L483.3,439.3 L480.7,443.4 L477.7,447.4 L474.3,451.2 L470.6,455.0 L466.5,458.7 L462.0,462.2 L457.2,465.6 L452.1,468.9 L446.7,472.0 L441.0,474.9 L435.0,477.7 L428.8,480.3 L422.3,482.8 L415.6,485.0 L408.7,487.1 L401.6,488.9 L394.3,490.6 L386.9,492.0 L379.4,493.2 L371.7,494.2 L364.0,495.0 L356.2,495.6 L348.4,495.9 L340.5,496.0 L332.6,495.9 L324.8,495.6 L317.0,495.0 L309.3,494.2 L301.6,493.2 L294.1,492.0 L286.7,490.6 L279.4,488.9 L272.3,487.1 L265.4,485.0 L258.7,482.8 L252.2,480.3 L246.0,477.7 L240.0,474.9 L234.3,472.0 L228.9,468.9 L223.8,465.6 L219.0,462.2 L214.5,458.7 L210.4,455.0 L206.7,451.2 L203.3,447.4 L200.3,443.4 L197.7,439.3 L195.4,435.2 L193.6,431.0 L192.1,426.8 L191.1,422.6 L190.5,418.3 L190.3,414.0 Z" stroke-width="2.88" fill="white" />
<path d="M488.2,388.0 L488.0,392.2 L487.4,396.5 L486.4,400.7 L485.0,404.8 L483.2,409.0 L481.0,413.0 L478.4,417.0 L475.4,420.9 L472.1,424.8 L468.4,428.5 L464.4,432.1 L460.0,435.6 L455.3,439.0 L450.3,442.2 L445.0,445.3 L439.4,448.2 L433.5,450.9 L427.4,453.5 L421.0,455.9 L414.4,458.1 L407.6,460.2 L400.6,462.0 L393.5,463.6 L386.2,465.0 L378.8,466.2 L371.3,467.2 L363.7,468.0 L356.0,468.6 L348.3,468.9 L340.6,469.0 L332.9,468.9 L325.2,468.6 L317.5,468.0 L309.9,467.2 L302.4,466.2 L295.0,465.0 L287.7,463.6 L280.6,462.0 L273.6,460.2 L266.8,458.1 L260.2,455.9 L253.8,453.5 L247.7,450.9 L241.8,448.2 L236.2,445.3 L230.9,442.2 L225.9,439.0 L221.2,435.6 L216.8,432.1 L212.8,428.5 L209.1,424.8 L205.8,420.9 L202.8,417.0 L200.2,413.0 L198.0,409.0 L196.2,404.8 L194.8,400.7 L193.8,396.5 L193.2,392.2 L193.0,388.0 L193.2,384.3 L193.8,380.7 L194.8,377.0 L196.2,373.4 L198.0,369.9 L200.2,366.4 L202.8,362.9 L205.8,359.5 L209.1,356.2 L212.8,353.0 L216.8,349.9 L221.2,346.9 L225.9,343.9 L230.9,341.2 L236.2,338.5 L241.8,336.0 L247.7,333.6 L253.8,331.4 L260.2,329.3 L266.8,327.4 L273.6,325.6 L280.6,324.1 L287.7,322.6 L295.0,321.4 L302.4,320.4 L309.9,319.5 L317.5,318.9 L325.2,318.4 L332.9,318.1 L340.6,318.0 L348.3,318.1 L356.0,318.4 L363.7,318.9 L371.3,319.5 L378.8,320.4 L386.2,321.4 L393.5,322.6 L400.6,324.1 L407.6,325.6 L414.4,327.4 L421.0,329.3 L427.4,331.4 L433.5,333.6 L439.4,336.0 L445.0,338.5 L450.3,341.2 L455.3,343.9 L460.0,346.9 L464.4,349.9 L468.4,353.0 L472.1,356.2 L475.4,359.5 L478.4,362.9 L481.0,366.4 L483.2,369.9 L485.0,373.4 L486.4,377.0 L487.4,380.7 L488.0,384.3 L488.2,388.0 Z" stroke-width="2.30" fill="white" />
<path d="M486.1,390.0 L485.9,393.9 L485.3,397.8 L484.3,401.7 L482.9,405.5 L481.1,409.3 L479.0,413.0 L476.4,416.7 L473.5,420.3 L470.2,423.8 L466.6,427.2 L462.6,430.6 L458.3,433.8 L453.7,436.9 L448.7,439.9 L443.5,442.7 L438.0,445.4 L432.2,447.9 L426.1,450.3 L419.8,452.5 L413.4,454.5 L406.7,456.4 L399.8,458.1 L392.7,459.6 L385.6,460.9 L378.3,462.0 L370.9,462.9 L363.4,463.6 L355.8,464.1 L348.2,464.4 L340.6,464.5 L333.0,464.4 L325.4,464.1 L317.8,463.6 L310.3,462.9 L302.9,462.0 L295.6,460.9 L288.5,459.6 L281.4,458.1 L274.5,456.4 L267.9,454.5 L261.4,452.5 L255.1,450.3 L249.0,447.9 L243.2,445.4 L237.7,442.7 L232.5,439.9 L227.5,436.9 L222.9,433.8 L218.6,430.6 L214.6,427.2 L211.0,423.8 L207.7,420.3 L204.8,416.7 L202.2,413.0 L200.1,409.3 L198.3,405.5 L196.9,401.7 L195.9,397.8 L195.3,393.9 L195.1,390.0 L195.3,386.4 L195.9,382.9 L196.9,379.4 L198.3,375.9 L200.1,372.4 L202.2,369.0 L204.8,365.6 L207.7,362.3 L211.0,359.1 L214.6,356.0 L218.6,353.0 L222.9,350.0 L227.5,347.2 L232.5,344.5 L237.7,341.9 L243.2,339.5 L249.0,337.2 L255.1,335.0 L261.4,333.0 L267.8,331.1 L274.5,329.4 L281.4,327.9 L288.5,326.5 L295.6,325.3 L302.9,324.3 L310.3,323.5 L317.8,322.8 L325.4,322.4 L333.0,322.1 L340.6,322.0 L348.2,322.1 L355.8,322.4 L363.4,322.8 L370.9,323.5 L378.3,324.3 L385.6,325.3 L392.7,326.5 L399.8,327.9 L406.7,329.4 L413.4,331.1 L419.8,333.0 L426.1,335.0 L432.2,337.2 L438.0,339.5 L443.5,341.9 L448.7,344.5 L453.7,347.2 L458.3,350.0 L462.6,353.0 L466.6,356.0 L470.2,359.1 L473.5,362.3 L476.4,365.6 L479.0,369.0 L481.1,372.4 L482.9,375.9 L484.3,379.4 L485.3,382.9 L485.9,386.4 L486.1,390.0" stroke-width="1.72" fill="none" />
<path d="M477.6,396.0 L477.4,399.3 L476.8,402.6 L475.9,405.9 L474.6,409.1 L472.9,412.3 L470.9,415.5 L468.5,418.6 L465.8,421.6 L462.7,424.6 L459.2,427.5 L455.5,430.3 L451.4,433.0 L447.1,435.6 L442.4,438.2 L437.5,440.5 L432.3,442.8 L426.8,445.0 L421.1,447.0 L415.2,448.8 L409.1,450.6 L402.8,452.1 L396.3,453.6 L389.7,454.8 L382.9,455.9 L376.1,456.9 L369.1,457.6 L362.0,458.2 L354.9,458.7 L347.8,458.9 L340.6,459.0 L333.4,458.9 L326.3,458.7 L319.2,458.2 L312.1,457.6 L305.1,456.9 L298.3,455.9 L291.5,454.8 L284.9,453.6 L278.4,452.1 L272.1,450.6 L266.0,448.8 L260.1,447.0 L254.4,445.0 L248.9,442.8 L243.7,440.5 L238.8,438.2 L234.1,435.6 L229.8,433.0 L225.7,430.3 L222.0,427.5 L218.5,424.6 L215.4,421.6 L212.7,418.6 L210.3,415.5 L208.3,412.3 L206.6,409.1 L205.3,405.9 L204.4,402.6 L203.8,399.3 L203.6,396.0 L203.8,393.2 L204.4,390.4 L205.3,387.6 L206.6,384.8 L208.3,382.0 L210.3,379.3 L212.7,376.6 L215.4,374.0 L218.5,371.5 L222.0,369.0 L225.7,366.6 L229.8,364.3 L234.1,362.0 L238.8,359.9 L243.7,357.8 L248.9,355.9 L254.4,354.0 L260.1,352.3 L266.0,350.7 L272.1,349.2 L278.4,347.9 L284.9,346.7 L291.5,345.6 L298.3,344.6 L305.1,343.8 L312.1,343.2 L319.2,342.7 L326.3,342.3 L333.4,342.1 L340.6,342.0 L347.8,342.1 L354.9,342.3 L362.0,342.7 L369.1,343.2 L376.1,343.8 L382.9,344.6 L389.7,345.6 L396.3,346.7 L402.8,347.9 L409.1,349.2 L415.2,350.7 L421.1,352.3 L426.8,354.0 L432.3,355.9 L437.5,357.8 L442.4,359.9 L447.1,362.0 L451.4,364.3 L455.5,366.6 L459.2,369.0 L462.7,371.5 L465.8,374.0 L468.5,376.6 L470.9,379.3 L472.9,382.0 L474.6,384.8 L475.9,387.6 L476.8,390.4 L477.4,393.2 L477.6,396.0" stroke-width="1.95" fill="none" />
<path d="M234.0,438.1 L231.8,435.7 L229.7,433.2 L227.9,430.7 L226.2,428.1 L224.8,425.5 L223.6,422.9 L222.6,420.2 L221.9,417.6" stroke-width="9.31" fill="none" />
<path d="M234.0,438.1 L231.8,435.7 L229.7,433.2 L227.9,430.7 L226.2,428.1 L224.8,425.5 L223.6,422.9 L222.6,420.2 L221.9,417.6" stroke-width="5.17" fill="none" stroke="#fff"/>
<path d="M221.9,402.9 L222.8,399.9 L224.1,397.0 L225.6,394.0 L227.5,391.1 L229.7,388.3 L232.2,385.5 L235.0,382.8 L238.1,380.1 L241.4,377.6 L245.1,375.1 L249.0,372.7 L253.1,370.4 L257.5,368.3 L262.1,366.2 L267.0,364.3" stroke-width="9.31" fill="none" />
<path d="M221.9,402.9 L222.8,399.9 L224.1,397.0 L225.6,394.0 L227.5,391.1 L229.7,388.3 L232.2,385.5 L235.0,382.8 L238.1,380.1 L241.4,377.6 L245.1,375.1 L249.0,372.7 L253.1,370.4 L257.5,368.3 L262.1,366.2 L267.0,364.3" stroke-width="5.17" fill="none" stroke="#fff"/>
<path d="M282.6,359.3 L284.9,358.7 L287.2,358.1 L289.6,357.5 L292.0,357.0 L294.3,356.5 L296.8,356.0 L299.2,355.6 L301.7,355.2" stroke-width="9.31" fill="none" />
<path d="M282.6,359.3 L284.9,358.7 L287.2,358.1 L289.6,357.5 L292.0,357.0 L294.3,356.5 L296.8,356.0 L299.2,355.6 L301.7,355.2" stroke-width="5.17" fill="none" stroke="#fff"/>
<path d="M414.2,364.3 L419.2,366.3 L423.9,368.4 L428.4,370.6 L432.6,372.9 L436.5,375.4 L440.2,377.9 L443.6,380.5 L446.7,383.2 L449.5,386.0 L452.0,388.9 L454.2,391.8 L456.0,394.8 L457.5,397.8 L458.7,400.9 L459.5,403.9" stroke-width="9.31" fill="none" />
<path d="M414.2,364.3 L419.2,366.3 L423.9,368.4 L428.4,370.6 L432.6,372.9 L436.5,375.4 L440.2,377.9 L443.6,380.5 L446.7,383.2 L449.5,386.0 L452.0,388.9 L454.2,391.8 L456.0,394.8 L457.5,397.8 L458.7,400.9 L459.5,403.9" stroke-width="5.17" fill="none" stroke="#fff"/>
<path d="M459.0,418.6 L458.2,421.3 L457.1,423.9 L455.9,426.6 L454.3,429.2 L452.6,431.7 L450.7,434.2 L448.5,436.7 L446.2,439.1" stroke-width="9.31" fill="none" />
<path d="M459.0,418.6 L458.2,421.3 L457.1,423.9 L455.9,426.6 L454.3,429.2 L452.6,431.7 L450.7,434.2 L448.5,436.7 L446.2,439.1" stroke-width="5.17" fill="none" stroke="#fff"/>
<path d="M287.6,444.3 L283.9,442.9 L280.3,441.3 L276.8,439.6 L273.6,437.9 L270.6,436.0 L267.8,434.1 L265.2,432.1 L262.8,430.1 L260.7,428.0 L258.8,425.8 L257.1,423.6 L255.7,421.3 L254.6,419.0 L253.7,416.7" stroke-width="9.31" fill="none" />
<path d="M287.6,444.3 L283.9,442.9 L280.3,441.3 L276.8,439.6 L273.6,437.9 L270.6,436.0 L267.8,434.1 L265.2,432.1 L262.8,430.1 L260.7,428.0 L258.8,425.8 L257.1,423.6 L255.7,421.3 L254.6,419.0 L253.7,416.7" stroke-width="5.17" fill="none" stroke="#fff"/>
<path d="M253.7,403.7 L254.1,402.7 L254.5,401.7 L255.0,400.7 L255.6,399.6 L256.2,398.6 L256.9,397.6 L257.6,396.6 L258.4,395.7" stroke-width="9.31" fill="none" />
<path d="M253.7,403.7 L254.1,402.7 L254.5,401.7 L255.0,400.7 L255.6,399.6 L256.2,398.6 L256.9,397.6 L257.6,396.6 L258.4,395.7" stroke-width="5.17" fill="none" stroke="#fff"/>
<path d="M377.8,449.0 L373.4,449.9 L368.9,450.7 L364.3,451.4 L359.6,452.0 L354.9,452.4 L350.1,452.7 L345.3,452.9 L340.5,453.0 L335.7,452.9 L330.9,452.7 L326.1,452.4 L321.4,452.0 L316.7,451.4 L312.1,450.7 L307.6,449.9" stroke-width="9.31" fill="none" />
<path d="M377.8,449.0 L373.4,449.9 L368.9,450.7 L364.3,451.4 L359.6,452.0 L354.9,452.4 L350.1,452.7 L345.3,452.9 L340.5,453.0 L335.7,452.9 L330.9,452.7 L326.1,452.4 L321.4,452.0 L316.7,451.4 L312.1,450.7 L307.6,449.9" stroke-width="5.17" fill="none" stroke="#fff"/>
<path d="M426.7,418.9 L425.5,421.2 L424.1,423.5 L422.5,425.8 L420.6,427.9 L418.4,430.1 L416.0,432.1 L413.4,434.1 L410.6,436.1 L407.5,437.9 L404.3,439.7 L400.8,441.4 L397.2,442.9" stroke-width="9.31" fill="none" />
<path d="M426.7,418.9 L425.5,421.2 L424.1,423.5 L422.5,425.8 L420.6,427.9 L418.4,430.1 L416.0,432.1 L413.4,434.1 L410.6,436.1 L407.5,437.9 L404.3,439.7 L400.8,441.4 L397.2,442.9" stroke-width="5.17" fill="none" stroke="#fff"/>
<path d="M423.3,396.3 L424.2,397.6 L425.1,398.8 L425.8,400.1 L426.5,401.3 L427.1,402.6 L427.6,403.9 L428.0,405.2 L428.3,406.5" stroke-width="9.31" fill="none" />
<path d="M423.3,396.3 L424.2,397.6 L425.1,398.8 L425.8,400.1 L426.5,401.3 L427.1,402.6 L427.6,403.9 L428.0,405.2 L428.3,406.5" stroke-width="5.17" fill="none" stroke="#fff"/>
<path d="M263.0,390.0 L263.1,388.3 L263.4,386.6 L264.0,384.8 L264.7,383.1 L265.7,381.5 L266.8,379.8 L268.2,378.2 L269.8,376.6 L271.6,375.0 L273.5,373.5 L275.7,372.0 L278.0,370.6 L280.5,369.2 L283.2,367.9 L286.0,366.7 L289.0,365.5 L292.1,364.4 L295.4,363.3 L298.7,362.3 L302.2,361.4 L305.9,360.6 L309.6,359.9 L313.4,359.2 L317.2,358.6 L321.2,358.1 L325.2,357.7 L329.2,357.4 L333.3,357.2 L337.4,357.0 L341.5,357.0 L345.6,357.0 L349.7,357.2 L353.8,357.4 L357.8,357.7 L361.8,358.1 L365.8,358.6 L369.6,359.2 L373.4,359.9 L377.1,360.6 L380.8,361.4 L384.3,362.3 L387.6,363.3 L390.9,364.4 L394.0,365.5 L397.0,366.7 L399.8,367.9 L402.5,369.2 L405.0,370.6 L407.3,372.0 L409.5,373.5 L411.4,375.0 L413.2,376.6 L414.8,378.2 L416.2,379.8 L417.3,381.5 L418.3,383.1 L419.0,384.8 L419.6,386.6 L419.9,388.3 L420.0,390.0 L420.0,405.0 L419.9,406.4 L419.6,407.8 L419.0,409.2 L418.3,410.6 L417.3,412.0 L416.2,413.3 L414.8,414.7 L413.2,416.0 L411.4,417.3 L409.5,418.5 L407.3,419.7 L405.0,420.9 L402.5,422.0 L399.8,423.1 L397.0,424.1 L394.0,425.1 L390.9,426.0 L387.6,426.8 L384.3,427.6 L380.8,428.4 L377.1,429.1 L373.4,429.7 L369.6,430.2 L365.8,430.7 L361.8,431.1 L357.8,431.4 L353.8,431.7 L349.7,431.9 L345.6,432.0 L341.5,432.0 L337.4,432.0 L333.3,431.9 L329.2,431.7 L325.2,431.4 L321.2,431.1 L317.2,430.7 L313.4,430.2 L309.6,429.7 L305.9,429.1 L302.2,428.4 L298.7,427.6 L295.4,426.8 L292.1,426.0 L289.0,425.1 L286.0,424.1 L283.2,423.1 L280.5,422.0 L278.0,420.9 L275.7,419.7 L273.5,418.5 L271.6,417.3 L269.8,416.0 L268.2,414.7 L266.8,413.3 L265.7,412.0 L264.7,410.6 L264.0,409.2 L263.4,407.8 L263.1,406.4 L263.0,405.0 Z" stroke-width="2.30" fill="white" />
<path d="M293.8,385.0 L293.9,383.8 L294.1,382.5 L294.4,381.3 L294.9,380.1 L295.5,378.9 L296.2,377.7 L297.0,376.6 L298.0,375.4 L299.1,374.3 L300.3,373.2 L301.6,372.2 L303.1,371.2 L304.6,370.2 L306.3,369.3 L308.0,368.4 L309.8,367.5 L311.8,366.7 L313.8,366.0 L315.9,365.3 L318.1,364.6 L320.3,364.1 L322.6,363.5 L324.9,363.1 L327.3,362.7 L329.7,362.3 L332.2,362.0 L334.7,361.8 L337.2,361.6 L339.8,361.5 L342.3,361.5 L344.8,361.5 L347.4,361.6 L349.9,361.8 L352.4,362.0 L354.9,362.3 L357.3,362.7 L359.7,363.1 L362.0,363.5 L364.3,364.1 L366.6,364.6 L368.7,365.3 L370.8,366.0 L372.8,366.7 L374.8,367.5 L376.6,368.4 L378.3,369.3 L380.0,370.2 L381.5,371.2 L383.0,372.2 L384.3,373.2 L385.5,374.3 L386.6,375.4 L387.6,376.6 L388.4,377.7 L389.1,378.9 L389.7,380.1 L390.2,381.3 L390.5,382.5 L390.7,383.8 L390.8,385.0 L390.8,391.5 L390.7,392.7 L390.5,394.0 L390.2,395.2 L389.7,396.4 L389.1,397.6 L388.4,398.8 L387.6,399.9 L386.6,401.1 L385.5,402.2 L384.3,403.2 L383.0,404.3 L381.5,405.3 L380.0,406.3 L378.3,407.2 L376.6,408.1 L374.8,409.0 L372.8,409.8 L370.8,410.5 L368.7,411.2 L366.6,411.9 L364.3,412.4 L362.0,413.0 L359.7,413.4 L357.3,413.8 L354.9,414.2 L352.4,414.5 L349.9,414.7 L347.4,414.9 L344.8,415.0 L342.3,415.0 L339.8,415.0 L337.2,414.9 L334.7,414.7 L332.2,414.5 L329.7,414.2 L327.3,413.8 L324.9,413.4 L322.6,413.0 L320.3,412.4 L318.1,411.9 L315.9,411.2 L313.8,410.5 L311.8,409.8 L309.8,409.0 L308.0,408.1 L306.3,407.2 L304.6,406.3 L303.1,405.3 L301.6,404.3 L300.3,403.2 L299.1,402.2 L298.0,401.1 L297.0,399.9 L296.2,398.8 L295.5,397.6 L294.9,396.4 L294.4,395.2 L294.1,394.0 L293.9,392.7 L293.8,391.5 Z" stroke-width="2.07" fill="white" />
<path d="M390.8,385.0 L390.7,386.2 L390.5,387.5 L390.2,388.7 L389.7,389.9 L389.1,391.1 L388.4,392.3 L387.6,393.4 L386.6,394.6 L385.5,395.7 L384.3,396.8 L383.0,397.8 L381.5,398.8 L380.0,399.8 L378.3,400.7 L376.6,401.6 L374.8,402.5 L372.8,403.3 L370.8,404.0 L368.7,404.7 L366.6,405.4 L364.3,405.9 L362.0,406.5 L359.7,406.9 L357.3,407.3 L354.9,407.7 L352.4,408.0 L349.9,408.2 L347.4,408.4 L344.8,408.5 L342.3,408.5 L339.8,408.5 L337.2,408.4 L334.7,408.2 L332.2,408.0 L329.7,407.7 L327.3,407.3 L324.9,406.9 L322.6,406.5 L320.3,405.9 L318.1,405.4 L315.9,404.7 L313.8,404.0 L311.8,403.3 L309.8,402.5 L308.0,401.6 L306.3,400.7 L304.6,399.8 L303.1,398.8 L301.6,397.8 L300.3,396.8 L299.1,395.7 L298.0,394.6 L297.0,393.4 L296.2,392.3 L295.5,391.1 L294.9,389.9 L294.4,388.7 L294.1,387.5 L293.9,386.2 L293.8,385.0" stroke-width="2.07" fill="none" />
<path d="M301.5,369.7 L301.6,368.8 L301.7,367.8 L302.0,366.9 L302.4,366.0 L302.9,365.0 L303.5,364.1 L304.2,363.2 L305.0,362.4 L305.9,361.5 L307.0,360.7 L308.1,359.9 L309.3,359.1 L310.6,358.4 L312.0,357.7 L313.5,357.0 L315.0,356.3 L316.6,355.7 L318.3,355.1 L320.1,354.6 L321.9,354.1 L323.8,353.7 L325.7,353.3 L327.7,352.9 L329.7,352.6 L331.7,352.3 L333.8,352.1 L335.9,351.9 L338.0,351.8 L340.2,351.7 L342.3,351.7 L344.4,351.7 L346.6,351.8 L348.7,351.9 L350.8,352.1 L352.9,352.3 L354.9,352.6 L356.9,352.9 L358.9,353.3 L360.8,353.7 L362.7,354.1 L364.5,354.6 L366.3,355.1 L368.0,355.7 L369.6,356.3 L371.1,357.0 L372.6,357.7 L374.0,358.4 L375.3,359.1 L376.5,359.9 L377.6,360.7 L378.7,361.5 L379.6,362.4 L380.4,363.2 L381.1,364.1 L381.7,365.0 L382.2,366.0 L382.6,366.9 L382.9,367.8 L383.0,368.8 L383.1,369.7 L383.1,385.0 L383.0,385.7 L382.9,386.4 L382.6,387.0 L382.2,387.7 L381.7,388.4 L381.1,389.0 L380.4,389.7 L379.6,390.3 L378.7,390.9 L377.6,391.5 L376.5,392.1 L375.3,392.6 L374.0,393.2 L372.6,393.7 L371.1,394.2 L369.6,394.7 L368.0,395.1 L366.3,395.5 L364.5,395.9 L362.7,396.3 L360.8,396.6 L358.9,396.9 L356.9,397.1 L354.9,397.4 L352.9,397.6 L350.8,397.7 L348.7,397.8 L346.6,397.9 L344.4,398.0 L342.3,398.0 L340.2,398.0 L338.0,397.9 L335.9,397.8 L333.8,397.7 L331.7,397.6 L329.7,397.4 L327.7,397.1 L325.7,396.9 L323.8,396.6 L321.9,396.3 L320.1,395.9 L318.3,395.5 L316.6,395.1 L315.0,394.7 L313.5,394.2 L312.0,393.7 L310.6,393.2 L309.3,392.6 L308.1,392.1 L307.0,391.5 L305.9,390.9 L305.0,390.3 L304.2,389.7 L303.5,389.0 L302.9,388.4 L302.4,387.7 L302.0,387.0 L301.7,386.4 L301.6,385.7 L301.5,385.0 Z" stroke-width="2.53" fill="white" />
<ellipse cx="342.3" cy="369.7" rx="40.8" ry="18" stroke-width="2.30" fill="white"/>
<ellipse cx="344.2" cy="369.7" rx="32.3" ry="13" stroke-width="2.30" fill="white"/>
<path d="M349.8,382.5 L348.1,382.6 L346.5,382.7 L344.8,382.7 L343.1,382.7 L341.4,382.7 L339.7,382.6 L338.0,382.5 L336.4,382.3 L334.8,382.1 L333.2,381.9 L331.6,381.7 L330.0,381.4 L328.5,381.1 L327.1,380.7 L325.7,380.3 L324.3,379.9 L323.0,379.5 L321.8,379.1 L320.6,378.6 L319.5,378.1 L318.4,377.5 L317.4,377.0 L316.5,376.4 L315.7,375.8 L314.9,375.2 L314.3,374.6 L313.7,373.9 L313.2,373.3 L312.7,372.6 L312.4,372.0 L312.1,371.3 L312.0,370.6 L311.9,369.9 L311.9,369.2 L312.0,368.6 L312.2,367.9 L312.5,367.2 L312.9,366.6 L313.3,365.9 L313.8,365.3 L314.5,364.6 L315.2,364.0 L315.9,363.4 L316.8,362.8 L317.7,362.2 L318.7,361.7 L319.8,361.2 L321.0,360.7 L322.2,360.2 L323.4,359.7 L324.8,359.3 L326.1,358.9 L327.6,358.6 L329.0,358.2 L330.5,357.9 L333.7,358.9 L332.5,359.2 L331.3,359.6 L330.2,359.9 L329.2,360.3 L328.2,360.8 L327.2,361.2 L326.4,361.6 L325.6,362.1 L324.8,362.6 L324.2,363.1 L323.6,363.6 L323.1,364.1 L322.6,364.6 L322.2,365.1 L321.9,365.7 L321.7,366.2 L321.6,366.8 L321.5,367.3 L321.5,367.9 L321.6,368.4 L321.8,369.0 L322.0,369.5 L322.3,370.0 L322.7,370.6 L323.2,371.1 L323.8,371.6 L324.4,372.1 L325.1,372.6 L325.8,373.1 L326.7,373.5 L327.5,374.0 L328.5,374.4 L329.5,374.8 L330.6,375.2 L331.7,375.5 L332.8,375.9 L334.1,376.2 L335.3,376.5 L336.6,376.8 L338.0,377.0 L339.3,377.2 L340.7,377.4 L342.1,377.6 L343.6,377.7 L345.1,377.8 L346.5,377.9 L348.0,378.0 L349.5,378.0 L351.0,378.0 L352.5,378.0 Z" stroke-width="1.15" fill="#000" />
<path d="M370.0,366.0 L378.5,366.0 L378.5,373.5 L370.0,373.5 Z" stroke-width="1.84" fill="white" />
<path d="M308.2,351.9 L304.8,351.0 L301.6,350.0 L298.5,348.9 L295.6,347.8 L292.7,346.6 L290.0,345.3 L287.4,343.9 L285.0,342.5 L282.7,341.0 L280.7,339.5 L278.7,337.9 L277.0,336.3 L275.4,334.6 L274.0,332.9 L272.8,331.1 L271.8,329.4 L271.0,327.6 L270.4,325.8 L270.0,323.9 L269.7,322.1 L269.7,320.3 L269.9,318.4 L270.3,316.6 L270.9,314.8 L271.6,313.0 L272.6,311.2 L273.8,309.5 L275.1,307.7 L276.6,306.0 L278.4,304.4 L280.3,302.8 L282.3,301.3 L284.5,299.8 L286.9,298.3 L289.5,297.0 L292.2,295.7 L295.0,294.4 L297.9,293.3 L301.0,292.2 L304.2,291.2 L307.5,290.3 L310.9,289.4 L314.4,288.7 L317.9,288.0 L321.5,287.5 L325.2,287.0 L328.9,286.6 L332.7,286.3 L336.5,286.1 L340.3,286.0 L344.1,286.0 L347.9,286.1 L351.7,286.3 L355.5,286.6 L359.2,287.0 L362.9,287.5 L366.5,288.0 L370.0,288.7 L373.5,289.4 L376.9,290.3 L380.2,291.2 L383.4,292.2 L386.5,293.3 L389.4,294.4 L392.2,295.7 L394.9,297.0 L397.5,298.3 L399.9,299.8 L402.1,301.3 L404.1,302.8 L406.0,304.4 L407.8,306.0 L409.3,307.7 L410.6,309.5 L411.8,311.2 L412.8,313.0 L413.5,314.8 L414.1,316.6 L414.5,318.4 L414.7,320.3 L414.7,322.1 L414.4,323.9 L414.0,325.8 L413.4,327.6 L412.6,329.4 L411.6,331.1 L410.4,332.9 L409.0,334.6 L407.4,336.3 L405.7,337.9 L403.7,339.5 L401.7,341.0 L399.4,342.5 L397.0,343.9 L394.4,345.3 L391.7,346.6 L388.8,347.8 L385.9,348.9 L382.8,350.0 L379.6,351.0 L376.2,351.9 L379.5,342.6 L382.0,341.7 L384.4,340.7 L386.8,339.7 L388.9,338.7 L391.0,337.6 L392.9,336.5 L394.7,335.3 L396.4,334.1 L397.9,332.8 L399.2,331.5 L400.4,330.2 L401.4,328.8 L402.3,327.5 L403.0,326.1 L403.5,324.7 L403.9,323.3 L404.1,321.9 L404.1,320.3 L403.9,318.7 L403.6,317.0 L403.1,315.4 L402.5,313.8 L401.6,312.2 L400.6,310.6 L399.5,309.1 L398.2,307.6 L396.7,306.1 L395.1,304.6 L393.3,303.2 L391.4,301.9 L389.4,300.6 L387.2,299.4 L384.9,298.2 L382.5,297.1 L380.0,296.1 L377.4,295.1 L374.6,294.2 L371.8,293.3 L368.9,292.6 L366.0,291.9 L362.9,291.3 L359.8,290.8 L356.7,290.4 L353.5,290.0 L350.3,289.8 L347.1,289.6 L343.8,289.5 L340.6,289.5 L337.3,289.6 L334.1,289.8 L330.9,290.0 L327.7,290.4 L324.6,290.8 L321.5,291.3 L318.4,291.9 L315.5,292.6 L312.6,293.3 L309.8,294.2 L307.0,295.1 L304.4,296.1 L301.9,297.1 L299.5,298.2 L297.2,299.4 L295.0,300.6 L293.0,301.9 L291.1,303.2 L289.3,304.6 L287.7,306.1 L286.2,307.6 L284.9,309.1 L283.8,310.6 L282.8,312.2 L281.9,313.8 L281.3,315.4 L280.8,317.0 L280.5,318.7 L280.3,320.3 L280.3,321.9 L280.5,323.3 L280.9,324.7 L281.4,326.1 L282.1,327.5 L283.0,328.8 L284.0,330.2 L285.2,331.5 L286.5,332.8 L288.0,334.1 L289.7,335.3 L291.5,336.5 L293.4,337.6 L295.5,338.7 L297.6,339.7 L300.0,340.7 L302.4,341.7 L304.9,342.6 Z" stroke-width="2.64" fill="white" />
<ellipse cx="311.5" cy="346.6" rx="6.8" ry="4.6" stroke-width="2.30" fill="white"/>
<ellipse cx="311.0" cy="346.6" rx="2.6" ry="2.0" stroke-width="1.15" fill="#000"/>
<ellipse cx="372.5" cy="346.6" rx="6.8" ry="4.6" stroke-width="2.30" fill="white"/>
<ellipse cx="372.0" cy="346.6" rx="2.6" ry="2.0" stroke-width="1.15" fill="#000"/>
<path d="M274.0,253.0 L274.1,251.8 L274.4,250.6 L274.8,249.4 L275.5,248.2 L276.4,247.0 L277.4,245.9 L278.6,244.8 L280.0,243.6 L281.5,242.6 L283.2,241.5 L285.1,240.5 L287.2,239.5 L289.4,238.5 L291.7,237.6 L294.2,236.7 L296.8,235.9 L299.6,235.1 L302.4,234.4 L305.4,233.7 L308.5,233.1 L311.7,232.5 L314.9,232.0 L318.3,231.5 L321.7,231.1 L325.1,230.8 L328.7,230.5 L332.2,230.3 L335.8,230.1 L339.4,230.0 L343.0,230.0 L346.6,230.0 L350.2,230.1 L353.8,230.3 L357.3,230.5 L360.9,230.8 L364.3,231.1 L367.7,231.5 L371.1,232.0 L374.3,232.5 L377.5,233.1 L380.6,233.7 L383.6,234.4 L386.4,235.1 L389.2,235.9 L391.8,236.7 L394.3,237.6 L396.6,238.5 L398.8,239.5 L400.9,240.5 L402.8,241.5 L404.5,242.6 L406.0,243.6 L407.4,244.8 L408.6,245.9 L409.6,247.0 L410.5,248.2 L411.2,249.4 L411.6,250.6 L411.9,251.8 L412.0,253.0 L412.0,278.5 L411.9,279.7 L411.6,280.9 L411.2,282.1 L410.5,283.3 L409.6,284.5 L408.6,285.6 L407.4,286.7 L406.0,287.9 L404.5,288.9 L402.8,290.0 L400.9,291.0 L398.8,292.0 L396.6,293.0 L394.3,293.9 L391.8,294.8 L389.2,295.6 L386.4,296.4 L383.6,297.1 L380.6,297.8 L377.5,298.4 L374.3,299.0 L371.1,299.5 L367.7,300.0 L364.3,300.4 L360.9,300.7 L357.3,301.0 L353.8,301.2 L350.2,301.4 L346.6,301.5 L343.0,301.5 L339.4,301.5 L335.8,301.4 L332.2,301.2 L328.7,301.0 L325.1,300.7 L321.7,300.4 L318.3,300.0 L314.9,299.5 L311.7,299.0 L308.5,298.4 L305.4,297.8 L302.4,297.1 L299.6,296.4 L296.8,295.6 L294.2,294.8 L291.7,293.9 L289.4,293.0 L287.2,292.0 L285.1,291.0 L283.2,290.0 L281.5,288.9 L280.0,287.9 L278.6,286.7 L277.4,285.6 L276.4,284.5 L275.5,283.3 L274.8,282.1 L274.4,280.9 L274.1,279.7 L274.0,278.5 Z" stroke-width="2.76" fill="white" />
<ellipse cx="343" cy="253" rx="69" ry="23" stroke-width="2.53" fill="white"/>
<path d="M407.5,252.5 L407.4,253.6 L407.1,254.6 L406.7,255.7 L406.1,256.8 L405.3,257.8 L404.3,258.8 L403.2,259.8 L401.9,260.8 L400.5,261.8 L398.9,262.8 L397.1,263.7 L395.2,264.5 L393.1,265.4 L390.9,266.2 L388.6,267.0 L386.2,267.7 L383.6,268.4 L380.9,269.1 L378.1,269.7 L375.2,270.3 L372.3,270.8 L369.2,271.2 L366.1,271.6 L362.9,272.0 L359.7,272.3 L356.4,272.6 L353.1,272.7 L349.7,272.9 L346.4,273.0 L343.0,273.0 L339.6,273.0 L336.3,272.9 L332.9,272.7 L329.6,272.6 L326.3,272.3 L323.1,272.0 L319.9,271.6 L316.8,271.2 L313.7,270.8 L310.8,270.3 L307.9,269.7 L305.1,269.1 L302.4,268.4 L299.8,267.7 L297.4,267.0 L295.1,266.2 L292.9,265.4 L290.8,264.5 L288.9,263.7 L287.1,262.8 L285.5,261.8 L284.1,260.8 L282.8,259.8 L281.7,258.8 L280.7,257.8 L279.9,256.8 L279.3,255.7 L278.9,254.6 L278.6,253.6 L278.5,252.5 L278.6,251.4 L278.9,250.4 L279.3,249.3 L279.9,248.2 L280.7,247.2 L281.7,246.2 L282.8,245.2 L284.1,244.2 L285.5,243.2 L287.1,242.2 L288.9,241.3 L290.8,240.5 L292.9,239.6 L295.1,238.8 L297.4,238.0 L299.8,237.3 L302.4,236.6 L305.1,235.9 L307.9,235.3 L310.8,234.7 L313.7,234.2 L316.8,233.8 L319.9,233.4 L323.1,233.0 L326.3,232.7 L329.6,232.4 L332.9,232.3 L336.3,232.1 L339.6,232.0 L343.0,232.0 L346.4,232.0 L349.7,232.1 L353.1,232.3 L356.4,232.4 L359.7,232.7 L362.9,233.0 L366.1,233.4 L369.2,233.8 L372.3,234.2 L375.2,234.7 L378.1,235.3 L380.9,235.9 L383.6,236.6 L386.2,237.3 L388.6,238.0 L390.9,238.8 L393.1,239.6 L395.2,240.5 L397.1,241.3 L398.9,242.2 L400.5,243.2 L401.9,244.2 L403.2,245.2 L404.3,246.2 L405.3,247.2 L406.1,248.2 L406.7,249.3 L407.1,250.4 L407.4,251.4 L407.5,252.5" stroke-width="1.61" fill="none" />
<ellipse cx="349" cy="251.5" rx="51.5" ry="17.5" stroke-width="2.30" fill="white"/>
<path d="M396.0,252.0 L395.9,252.8 L395.7,253.6 L395.4,254.3 L395.0,255.1 L394.4,255.9 L393.7,256.6 L392.9,257.4 L391.9,258.1 L390.9,258.8 L389.7,259.5 L388.4,260.2 L387.0,260.8 L385.5,261.4 L383.9,262.0 L382.2,262.6 L380.4,263.1 L378.6,263.7 L376.6,264.1 L374.6,264.6 L372.5,265.0 L370.3,265.4 L368.1,265.7 L365.8,266.0 L363.5,266.3 L361.2,266.5 L358.8,266.7 L356.4,266.8 L353.9,266.9 L351.5,267.0 L349.0,267.0 L346.5,267.0 L344.1,266.9 L341.6,266.8 L339.2,266.7 L336.8,266.5 L334.5,266.3 L332.2,266.0 L329.9,265.7 L327.7,265.4 L325.5,265.0 L323.4,264.6 L321.4,264.1 L319.4,263.7 L317.6,263.1 L315.8,262.6 L314.1,262.0 L312.5,261.4 L311.0,260.8 L309.6,260.2 L308.3,259.5 L307.1,258.8 L306.1,258.1 L305.1,257.4 L304.3,256.6 L303.6,255.9 L303.0,255.1 L302.6,254.3 L302.3,253.6 L302.1,252.8 L302.0,252.0 L302.1,251.2 L302.3,250.4 L302.6,249.7 L303.0,248.9 L303.6,248.1 L304.3,247.4 L305.1,246.6 L306.1,245.9 L307.1,245.2 L308.3,244.5 L309.6,243.8 L311.0,243.2 L312.5,242.6 L314.1,242.0 L315.8,241.4 L317.6,240.9 L319.4,240.3 L321.4,239.9 L323.4,239.4 L325.5,239.0 L327.7,238.6 L329.9,238.3 L332.2,238.0 L334.5,237.7 L336.8,237.5 L339.2,237.3 L341.6,237.2 L344.1,237.1 L346.5,237.0 L349.0,237.0 L351.5,237.0 L353.9,237.1 L356.4,237.2 L358.8,237.3 L361.2,237.5 L363.5,237.7 L365.8,238.0 L368.1,238.3 L370.3,238.6 L372.5,239.0 L374.6,239.4 L376.6,239.9 L378.6,240.3 L380.4,240.9 L382.2,241.4 L383.9,242.0 L385.5,242.6 L387.0,243.2 L388.4,243.8 L389.7,244.5 L390.9,245.2 L391.9,245.9 L392.9,246.6 L393.7,247.4 L394.4,248.1 L395.0,248.9 L395.4,249.7 L395.7,250.4 L395.9,251.2 L396.0,252.0" stroke-width="1.49" fill="none" />
<path d="M312.0,260.0 L312.1,259.6 L312.2,259.2 L312.5,258.7 L312.8,258.3 L313.3,257.9 L313.8,257.5 L314.5,257.1 L315.2,256.7 L316.0,256.4 L317.0,256.0 L318.0,255.6 L319.1,255.3 L320.2,255.0 L321.5,254.6 L322.8,254.3 L324.2,254.1 L325.7,253.8 L327.3,253.5 L328.8,253.3 L330.5,253.1 L332.2,252.9 L334.0,252.7 L335.7,252.5 L337.6,252.4 L339.4,252.3 L341.3,252.2 L343.2,252.1 L345.1,252.0 L347.1,252.0 L349.0,252.0 L350.9,252.0 L352.9,252.0 L354.8,252.1 L356.7,252.2 L358.6,252.3 L360.4,252.4 L362.3,252.5 L364.0,252.7 L365.8,252.9 L367.5,253.1 L369.2,253.3 L370.7,253.5 L372.3,253.8 L373.8,254.1 L375.2,254.3 L376.5,254.6 L377.8,255.0 L378.9,255.3 L380.0,255.6 L381.0,256.0 L382.0,256.4 L382.8,256.7 L383.5,257.1 L384.2,257.5 L384.7,257.9 L385.2,258.3 L385.5,258.7 L385.8,259.2 L385.9,259.6 L386.0,260.0" stroke-width="1.72" fill="none" />
<path d="M386.0,260.0 L385.9,260.4 L385.8,260.8 L385.5,261.3 L385.2,261.7 L384.7,262.1 L384.2,262.5 L383.5,262.9 L382.8,263.3 L382.0,263.6 L381.0,264.0 L380.0,264.4 L378.9,264.7 L377.8,265.0 L376.5,265.4 L375.2,265.7 L373.8,265.9 L372.3,266.2 L370.7,266.5 L369.2,266.7 L367.5,266.9 L365.8,267.1 L364.0,267.3 L362.3,267.5 L360.4,267.6 L358.6,267.7 L356.7,267.8 L354.8,267.9 L352.9,268.0 L350.9,268.0 L349.0,268.0 L347.1,268.0 L345.1,268.0 L343.2,267.9 L341.3,267.8 L339.4,267.7 L337.6,267.6 L335.7,267.5 L334.0,267.3 L332.2,267.1 L330.5,266.9 L328.8,266.7 L327.3,266.5 L325.7,266.2 L324.2,265.9 L322.8,265.7 L321.5,265.4 L320.2,265.0 L319.1,264.7 L318.0,264.4 L317.0,264.0 L316.0,263.6 L315.2,263.3 L314.5,262.9 L313.8,262.5 L313.3,262.1 L312.8,261.7 L312.5,261.3 L312.2,260.8 L312.1,260.4 L312.0,260.0" stroke-width="2.99" fill="none" />
<path d="M304.0,240.0 C302.8,240.9 301.3,244.4 301.0,247.0 C300.7,249.6 300.9,253.0 302.0,255.5 C303.1,258.0 305.3,260.3 307.5,262.0 C309.7,263.7 313.4,265.4 315.0,265.5 C316.6,265.6 317.5,264.1 317.0,262.5 C316.5,260.9 313.2,258.4 312.0,256.0 C310.8,253.6 310.1,250.4 309.5,248.0 C308.9,245.6 309.4,242.8 308.5,241.5 C307.6,240.2 305.2,239.1 304.0,240.0 Z" stroke-width="1.15" fill="#000" />
<path d="M479.5,137.0 L487.0,137.0 L487.0,178.0 L479.5,178.0 Z" stroke-width="1.38" fill="#111" />
<line x1="482" y1="142.0" x2="484.6" y2="142.4" stroke="#fff" stroke-width="1"/>
<line x1="482" y1="144.6" x2="484.6" y2="145.0" stroke="#fff" stroke-width="1"/>
<line x1="482" y1="147.2" x2="484.6" y2="147.6" stroke="#fff" stroke-width="1"/>
<line x1="482" y1="149.8" x2="484.6" y2="150.2" stroke="#fff" stroke-width="1"/>
<line x1="482" y1="152.4" x2="484.6" y2="152.8" stroke="#fff" stroke-width="1"/>
<line x1="482" y1="155.0" x2="484.6" y2="155.4" stroke="#fff" stroke-width="1"/>
<line x1="482" y1="157.6" x2="484.6" y2="158.0" stroke="#fff" stroke-width="1"/>
<line x1="482" y1="160.2" x2="484.6" y2="160.6" stroke="#fff" stroke-width="1"/>
<line x1="482" y1="162.8" x2="484.6" y2="163.2" stroke="#fff" stroke-width="1"/>
<line x1="482" y1="165.4" x2="484.6" y2="165.8" stroke="#fff" stroke-width="1"/>
<line x1="482" y1="168.0" x2="484.6" y2="168.4" stroke="#fff" stroke-width="1"/>
<line x1="482" y1="170.6" x2="484.6" y2="171.0" stroke="#fff" stroke-width="1"/>
<line x1="482" y1="173.2" x2="484.6" y2="173.6" stroke="#fff" stroke-width="1"/>
<line x1="482" y1="175.8" x2="484.6" y2="176.2" stroke="#fff" stroke-width="1"/>
<path d="M205.4,160.0 C205.4,163.3 204.8,174.8 205.2,180.0 C205.6,185.2 205.9,187.8 208.0,191.5 C210.1,195.2 211.7,198.7 218.0,202.5 C224.3,206.3 234.3,210.8 246.0,214.4 C257.7,218.0 274.0,221.9 288.0,224.2 C302.0,226.5 318.7,227.5 330.0,228.4 C341.3,229.3 345.3,230.2 356.0,229.8 C366.7,229.4 381.3,228.0 394.0,226.2 C406.7,224.4 421.3,221.5 432.0,218.8 C442.7,216.1 451.1,213.4 458.0,210.0 C464.9,206.6 470.4,201.9 473.6,198.2 C476.9,194.5 476.6,192.4 477.5,188.0 C478.4,183.6 478.8,180.2 479.0,172.0 C479.2,163.8 479.0,144.5 479.0,139.0 Z" stroke-width="2.76" fill="white" />
<path d="M215.3,169.5 L246.0,186.3 L274.2,194.7 L302.3,197.5" stroke-width="2.07" fill="none" />
<path d="M473.6,168.6 L465.0,175.0 L454.4,180.4" stroke-width="1.84" fill="none" />
<path d="M134.5,142.0 L130.0,136.0 L129.5,129.0 L135.0,122.0 L148.0,117.0 L161.4,115.5 L205.7,106.0 L244.0,98.3 L306.0,93.5 L400.0,86.5 L440.0,85.5 L458.0,87.5 L472.0,90.5 L490.0,94.0 L501.0,98.5 L506.0,105.0 L505.5,112.0 L497.0,124.3 L447.0,186.4 L441.0,190.8 L408.6,201.0 L393.9,207.5 L385.0,211.0 L372.0,211.0 L355.6,208.5 L190.0,155.4 L167.3,146.5 L142.0,144.3 Z" stroke-width="2.64" fill="white" />
<path d="M132.0,139.0 L142.0,147.5 L164.3,152.5 L204.0,165.3 L355.6,212.5 L372.0,214.5 L386.0,214.0 L396.0,210.5 L441.0,194.5 L450.0,188.0 L499.0,127.0 L505.0,116.0" stroke-width="1.84" fill="none" />
<path d="M425.0,104.0 L452.0,98.0" stroke-width="10.35" fill="none" />
<path d="M425.0,104.0 L452.0,98.0" stroke-width="5.75" fill="none" stroke="#fff"/>
<ellipse cx="279" cy="111.3" rx="25.6" ry="7.3" stroke-width="1.72" fill="#000"/>
<path d="M271.8,116.8 L270.8,116.8 L269.8,116.7 L268.8,116.6 L267.9,116.5 L266.9,116.4 L266.0,116.3 L265.1,116.1 L264.3,116.0 L263.5,115.8 L262.7,115.7 L262.0,115.5 L261.3,115.3 L260.7,115.1 L260.1,114.9 L259.5,114.7 L259.0,114.5 L258.6,114.3 L258.2,114.0 L257.9,113.8 L257.6,113.6 L257.4,113.3 L257.2,113.1 L257.1,112.9 L257.0,112.6 L257.0,112.4 L257.1,112.2 L257.2,111.9 L257.3,111.7 L257.6,111.4 L257.8,111.2 L258.2,111.0 L258.6,110.8 L259.0,110.5 L259.5,110.3 L260.0,110.1 L260.6,109.9" stroke-width="1.84" fill="none" stroke="#fff"/>
<path d="M270.0,97.0 L283.0,97.0 L283.0,108.0 L270.0,108.0 Z" stroke-width="1.15" fill="#000" />
<ellipse cx="343" cy="144.4" rx="96" ry="32" stroke-width="2.30" fill="white"/>
<ellipse cx="342.6" cy="131.5" rx="80" ry="28" stroke-width="2.30" fill="white"/>
<path d="M420.4,138.8 L419.6,140.2 L418.5,141.6 L417.3,143.0 L415.8,144.3 L414.1,145.7 L412.3,147.0 L410.2,148.2 L408.0,149.4 L405.6,150.6 L402.9,151.7 L400.2,152.8 L397.3,153.9 L394.2,154.8 L390.9,155.7 L387.6,156.6 L384.1,157.4 L380.5,158.1 L376.8,158.8 L373.0,159.4 L369.1,159.9 L365.2,160.4 L361.2,160.7 L357.1,161.0 L353.0,161.3 L348.8,161.4 L344.7,161.5 L340.5,161.5 L336.4,161.4 L332.2,161.3 L328.1,161.0 L324.0,160.7 L320.0,160.4 L316.1,159.9 L312.2,159.4 L308.4,158.8 L304.7,158.1 L301.1,157.4 L297.6,156.6 L294.3,155.7 L291.0,154.8 L287.9,153.9 L285.0,152.8 L282.3,151.7 L279.6,150.6 L277.2,149.4 L275.0,148.2 L272.9,147.0 L271.1,145.7 L269.4,144.3 L267.9,143.0 L266.7,141.6 L265.6,140.2 L264.8,138.8" stroke-width="1.72" fill="none" />
<ellipse cx="343" cy="128" rx="74.5" ry="25" stroke-width="1.84" fill="white"/>
<path d="M419.4,141.6 L418.2,143.0 L416.8,144.4 L415.2,145.7 L413.4,147.0 L411.4,148.2 L409.3,149.5 L406.9,150.7 L404.4,151.8 L401.7,152.9 L398.8,153.9 L395.8,154.9 L392.6,155.9 L389.3,156.7 L385.9,157.6 L382.4,158.3 L378.7,159.0 L374.9,159.6 L371.1,160.2 L367.2,160.7 L363.2,161.1 L359.1,161.4 L355.0,161.7 L350.9,161.8 L346.8,162.0 L342.6,162.0 L338.4,162.0 L334.3,161.8 L330.2,161.7 L326.1,161.4 L322.0,161.1 L318.0,160.7 L314.1,160.2 L310.3,159.6 L306.5,159.0 L302.9,158.3 L299.3,157.6 L295.9,156.7 L292.6,155.9 L289.4,154.9 L286.4,153.9 L283.5,152.9 L280.8,151.8 L278.3,150.7 L275.9,149.5 L273.8,148.2 L271.8,147.0 L270.0,145.7 L268.4,144.4 L267.0,143.0 L265.8,141.6" stroke-width="1.72" fill="none" />
<ellipse cx="343.7" cy="125" rx="62.6" ry="18.3" stroke-width="2.53" fill="white"/>
<path d="M404.8,130.4 L404.1,131.4 L403.3,132.4 L402.3,133.4 L401.2,134.3 L399.8,135.3 L398.4,136.2 L396.8,137.1 L395.0,137.9 L393.1,138.8 L391.1,139.6 L388.9,140.4 L386.6,141.1 L384.2,141.8 L381.6,142.4 L379.0,143.0 L376.3,143.6 L373.5,144.1 L370.5,144.6 L367.6,145.0 L364.5,145.4 L361.4,145.7 L358.3,146.0 L355.1,146.2 L351.8,146.3 L348.6,146.4 L345.3,146.5 L342.1,146.5 L338.8,146.4 L335.6,146.3 L332.3,146.2 L329.1,146.0 L326.0,145.7 L322.9,145.4 L319.8,145.0 L316.9,144.6 L313.9,144.1 L311.1,143.6 L308.4,143.0 L305.8,142.4 L303.2,141.8 L300.8,141.1 L298.5,140.4 L296.3,139.6 L294.3,138.8 L292.4,137.9 L290.6,137.1 L289.0,136.2 L287.6,135.3 L286.2,134.3 L285.1,133.4 L284.1,132.4 L283.3,131.4 L282.6,130.4" stroke-width="1.72" fill="none" />
<path d="M289.5,134.2 L287.9,133.3 L286.5,132.4 L285.2,131.5 L284.1,130.6 L283.2,129.7 L282.4,128.7 L281.8,127.8 L281.4,126.8 L281.2,125.8 L281.1,124.8 L281.2,123.9 L281.5,122.9 L282.0,121.9 L282.6,121.0 L283.4,120.0 L284.4,119.1 L285.6,118.2 L286.9,117.3 L288.4,116.4 L290.0,115.6 L291.8,114.8 L293.8,114.0 L295.8,113.2 L298.0,112.5 L300.4,111.8 L302.9,111.1 L305.4,110.5 L308.1,109.9 L310.9,109.4 L313.8,108.9 L316.8,108.5 L319.8,108.1 L322.9,107.7 L326.1,107.4 L329.3,107.2 L332.6,107.0 L335.9,106.8 L339.2,106.7 L342.5,106.7 L345.8,106.7 L349.2,106.8 L344.5,111.7 L341.4,111.8 L338.4,111.9 L335.4,112.0 L332.4,112.2 L329.4,112.5 L326.5,112.7 L323.7,113.1 L320.9,113.5 L318.2,113.9 L315.6,114.3 L313.0,114.8 L310.6,115.4 L308.2,116.0 L306.0,116.6 L303.9,117.2 L301.9,117.9 L300.0,118.6 L298.3,119.3 L296.7,120.1 L295.2,120.9 L293.9,121.7 L292.8,122.5 L291.7,123.4 L290.9,124.2 L290.2,125.1 L289.6,126.0 L289.3,126.9 L289.1,127.8 L289.0,128.7 L289.1,129.6 L289.4,130.5 L289.8,131.3 L290.4,132.2 L291.2,133.1 L292.1,133.9 L293.2,134.8 L294.4,135.6 Z" stroke-width="1.15" fill="#000" />
<path d="M343.7,108.0 L347.0,108.0 L350.2,108.1 L353.4,108.2 L356.6,108.4 L359.8,108.6 L362.9,108.9 L365.9,109.2 L368.9,109.5 L371.9,109.9 L374.7,110.4 L377.5,110.8 L380.1,111.4 L382.7,111.9 L385.1,112.5 L387.5,113.2 L389.7,113.8 L391.7,114.5 L393.7,115.2" stroke-width="3.45" fill="none" />
<path d="M291.5,134.3 C296.6,133.5 311.4,130.5 322.0,129.5 C332.6,128.5 345.3,128.3 355.0,128.4 C364.7,128.5 373.0,129.0 380.0,129.8 C387.0,130.7 394.2,132.9 397.0,133.5" stroke-width="2.30" fill="none" />
<path d="M292.7,139.0 C297.6,138.2 311.6,135.1 322.0,134.3 C332.4,133.5 345.3,134.1 355.0,134.3 C364.7,134.5 373.3,134.7 380.0,135.5 C386.7,136.3 392.5,138.4 395.0,139.0" stroke-width="2.07" fill="none" />
<path d="M293.0,139.0 L312.0,141.5 L303.0,146.0 L295.0,144.0 Z" stroke-width="1.15" fill="#000" />
<path d="M133.0,127.0 L133.0,126.5 L133.1,126.0 L133.3,125.4 L133.5,124.9 L133.7,124.4 L134.0,123.9 L134.4,123.4 L134.9,122.9 L135.3,122.5 L135.9,122.0 L136.5,121.6 L137.1,121.1 L137.8,120.7 L138.5,120.3 L139.3,119.9 L140.1,119.6 L140.9,119.2 L141.8,118.9 L142.7,118.6 L143.7,118.3 L144.7,118.1 L145.7,117.9 L146.7,117.7 L147.8,117.5 L148.9,117.3 L150.0,117.2 L151.1,117.1 L152.2,117.1 L153.3,117.0 L154.4,117.0 L155.5,117.0 L156.6,117.1 L157.7,117.1 L158.8,117.2 L159.9,117.3 L161.0,117.5 L162.1,117.7 L163.1,117.9 L164.1,118.1 L165.1,118.3 L166.1,118.6 L167.0,118.9 L167.9,119.2 L168.7,119.6 L169.5,119.9 L170.3,120.3 L171.0,120.7 L171.7,121.1 L172.3,121.6 L172.9,122.0 L173.5,122.5 L173.9,122.9 L174.4,123.4 L174.8,123.9 L175.1,124.4 L175.3,124.9 L175.5,125.4 L175.7,126.0 L175.8,126.5 L175.8,127.0 L175.8,130.0 L175.8,130.5 L175.7,131.0 L175.5,131.6 L175.3,132.1 L175.1,132.6 L174.8,133.1 L174.4,133.6 L173.9,134.1 L173.5,134.5 L172.9,135.0 L172.3,135.4 L171.7,135.9 L171.0,136.3 L170.3,136.7 L169.5,137.1 L168.7,137.4 L167.9,137.8 L167.0,138.1 L166.1,138.4 L165.1,138.7 L164.1,138.9 L163.1,139.1 L162.1,139.3 L161.0,139.5 L159.9,139.7 L158.8,139.8 L157.7,139.9 L156.6,139.9 L155.5,140.0 L154.4,140.0 L153.3,140.0 L152.2,139.9 L151.1,139.9 L150.0,139.8 L148.9,139.7 L147.8,139.5 L146.7,139.3 L145.7,139.1 L144.7,138.9 L143.7,138.7 L142.7,138.4 L141.8,138.1 L140.9,137.8 L140.1,137.4 L139.3,137.1 L138.5,136.7 L137.8,136.3 L137.1,135.9 L136.5,135.4 L135.9,135.0 L135.3,134.5 L134.9,134.1 L134.4,133.6 L134.0,133.1 L133.7,132.6 L133.5,132.1 L133.3,131.6 L133.1,131.0 L133.0,130.5 L133.0,130.0 Z" stroke-width="2.30" fill="white" />
<ellipse cx="154.4" cy="127" rx="21.4" ry="10" stroke-width="2.30" fill="white"/>
<path d="M456.5,106.0 L456.5,105.4 L456.6,104.9 L456.8,104.3 L457.0,103.8 L457.2,103.2 L457.6,102.7 L457.9,102.1 L458.4,101.6 L458.8,101.1 L459.4,100.6 L460.0,100.1 L460.6,99.7 L461.3,99.2 L462.0,98.8 L462.8,98.4 L463.6,98.0 L464.5,97.6 L465.4,97.3 L466.3,96.9 L467.2,96.6 L468.2,96.4 L469.3,96.1 L470.3,95.9 L471.4,95.7 L472.4,95.6 L473.5,95.4 L474.6,95.3 L475.8,95.3 L476.9,95.2 L478.0,95.2 L479.1,95.2 L480.2,95.3 L481.4,95.3 L482.5,95.4 L483.6,95.6 L484.6,95.7 L485.7,95.9 L486.7,96.1 L487.8,96.4 L488.8,96.6 L489.7,96.9 L490.6,97.3 L491.5,97.6 L492.4,98.0 L493.2,98.4 L494.0,98.8 L494.7,99.2 L495.4,99.7 L496.0,100.1 L496.6,100.6 L497.2,101.1 L497.6,101.6 L498.1,102.1 L498.4,102.7 L498.8,103.2 L499.0,103.8 L499.2,104.3 L499.4,104.9 L499.5,105.4 L499.5,106.0 L499.5,109.0 L499.5,109.6 L499.4,110.1 L499.2,110.7 L499.0,111.2 L498.8,111.8 L498.4,112.3 L498.1,112.9 L497.6,113.4 L497.2,113.9 L496.6,114.4 L496.0,114.9 L495.4,115.3 L494.7,115.8 L494.0,116.2 L493.2,116.6 L492.4,117.0 L491.5,117.4 L490.6,117.7 L489.7,118.1 L488.8,118.4 L487.8,118.6 L486.7,118.9 L485.7,119.1 L484.6,119.3 L483.6,119.4 L482.5,119.6 L481.4,119.7 L480.2,119.7 L479.1,119.8 L478.0,119.8 L476.9,119.8 L475.8,119.7 L474.6,119.7 L473.5,119.6 L472.4,119.4 L471.4,119.3 L470.3,119.1 L469.3,118.9 L468.2,118.6 L467.2,118.4 L466.3,118.1 L465.4,117.7 L464.5,117.4 L463.6,117.0 L462.8,116.6 L462.0,116.2 L461.3,115.8 L460.6,115.3 L460.0,114.9 L459.4,114.4 L458.8,113.9 L458.4,113.4 L457.9,112.9 L457.6,112.3 L457.2,111.8 L457.0,111.2 L456.8,110.7 L456.6,110.1 L456.5,109.6 L456.5,109.0 Z" stroke-width="2.30" fill="white" />
<ellipse cx="478" cy="106" rx="21.5" ry="10.8" stroke-width="2.30" fill="white"/>
<path d="M354.5,197.2 L354.5,196.6 L354.6,196.0 L354.8,195.4 L355.0,194.9 L355.2,194.3 L355.6,193.7 L356.0,193.2 L356.4,192.6 L356.9,192.1 L357.4,191.5 L358.0,191.0 L358.7,190.6 L359.4,190.1 L360.2,189.6 L360.9,189.2 L361.8,188.8 L362.7,188.4 L363.6,188.1 L364.5,187.7 L365.5,187.4 L366.5,187.1 L367.6,186.9 L368.6,186.7 L369.7,186.5 L370.8,186.3 L371.9,186.1 L373.1,186.0 L374.2,186.0 L375.3,185.9 L376.5,185.9 L377.7,185.9 L378.8,186.0 L379.9,186.0 L381.1,186.1 L382.2,186.3 L383.3,186.5 L384.4,186.7 L385.4,186.9 L386.5,187.1 L387.5,187.4 L388.5,187.7 L389.4,188.1 L390.3,188.4 L391.2,188.8 L392.1,189.2 L392.8,189.6 L393.6,190.1 L394.3,190.6 L395.0,191.0 L395.6,191.5 L396.1,192.1 L396.6,192.6 L397.0,193.2 L397.4,193.7 L397.8,194.3 L398.0,194.9 L398.2,195.4 L398.4,196.0 L398.5,196.6 L398.5,197.2 L398.5,200.2 L398.5,200.8 L398.4,201.4 L398.2,202.0 L398.0,202.5 L397.8,203.1 L397.4,203.7 L397.0,204.2 L396.6,204.8 L396.1,205.3 L395.6,205.8 L395.0,206.4 L394.3,206.8 L393.6,207.3 L392.8,207.8 L392.1,208.2 L391.2,208.6 L390.3,209.0 L389.4,209.3 L388.5,209.7 L387.5,210.0 L386.5,210.3 L385.4,210.5 L384.4,210.7 L383.3,210.9 L382.2,211.1 L381.1,211.3 L379.9,211.4 L378.8,211.4 L377.7,211.5 L376.5,211.5 L375.3,211.5 L374.2,211.4 L373.1,211.4 L371.9,211.3 L370.8,211.1 L369.7,210.9 L368.6,210.7 L367.6,210.5 L366.5,210.3 L365.5,210.0 L364.5,209.7 L363.6,209.3 L362.7,209.0 L361.8,208.6 L360.9,208.2 L360.2,207.8 L359.4,207.3 L358.7,206.8 L358.0,206.4 L357.4,205.8 L356.9,205.3 L356.4,204.8 L356.0,204.2 L355.6,203.7 L355.2,203.1 L355.0,202.5 L354.8,202.0 L354.6,201.4 L354.5,200.8 L354.5,200.2 Z" stroke-width="2.30" fill="white" />
<ellipse cx="376.5" cy="197.2" rx="22" ry="11.3" stroke-width="2.30" fill="white"/>
<path d="M143.5,146.0 L166.0,146.0 L166.0,203.0 L163.0,205.0 L146.5,205.0 L143.5,203.0 Z" stroke-width="2.76" fill="white" />
<line x1="145.0" y1="149" x2="164.5" y2="149.5" stroke-width="1.49"/>
<line x1="145.0" y1="151.5" x2="164.5" y2="152.0" stroke-width="1.49"/>
<line x1="145.0" y1="154.0" x2="164.5" y2="154.5" stroke-width="1.49"/>
<line x1="145.0" y1="156.5" x2="164.5" y2="157.0" stroke-width="1.49"/>
<line x1="145.0" y1="159.0" x2="164.5" y2="159.5" stroke-width="1.49"/>
<line x1="145.0" y1="161.5" x2="164.5" y2="162.0" stroke-width="1.49"/>
<line x1="145.0" y1="164.0" x2="164.5" y2="164.5" stroke-width="1.49"/>
<line x1="145.0" y1="166.5" x2="164.5" y2="167.0" stroke-width="1.49"/>
<line x1="145.0" y1="169.0" x2="164.5" y2="169.5" stroke-width="1.49"/>
<line x1="145.0" y1="171.5" x2="164.5" y2="172.0" stroke-width="1.49"/>
<line x1="145.0" y1="174.0" x2="164.5" y2="174.5" stroke-width="1.49"/>
<line x1="145.0" y1="176.5" x2="164.5" y2="177.0" stroke-width="1.49"/>
<line x1="145.0" y1="179.0" x2="164.5" y2="179.5" stroke-width="1.49"/>
<line x1="145.0" y1="181.5" x2="164.5" y2="182.0" stroke-width="1.49"/>
<line x1="145.0" y1="184.0" x2="164.5" y2="184.5" stroke-width="1.49"/>
<line x1="145.0" y1="186.5" x2="164.5" y2="187.0" stroke-width="1.49"/>
<line x1="145.0" y1="189.0" x2="164.5" y2="189.5" stroke-width="1.49"/>
<line x1="145.0" y1="191.5" x2="164.5" y2="192.0" stroke-width="1.49"/>
<line x1="145.0" y1="194.0" x2="164.5" y2="194.5" stroke-width="1.49"/>
<line x1="145.0" y1="196.5" x2="164.5" y2="197.0" stroke-width="1.49"/>
<line x1="145.0" y1="199.0" x2="164.5" y2="199.5" stroke-width="1.49"/>
<line x1="145.0" y1="201.5" x2="164.5" y2="202.0" stroke-width="1.49"/>
<path d="M365.0,214.0 L387.0,214.0 L387.0,277.0 L384.0,279.0 L368.0,279.0 L365.0,277.0 Z" stroke-width="2.76" fill="white" />
<line x1="366.5" y1="217" x2="385.5" y2="217.5" stroke-width="1.49"/>
<line x1="366.5" y1="219.5" x2="385.5" y2="220.0" stroke-width="1.49"/>
<line x1="366.5" y1="222.0" x2="385.5" y2="222.5" stroke-width="1.49"/>
<line x1="366.5" y1="224.5" x2="385.5" y2="225.0" stroke-width="1.49"/>
<line x1="366.5" y1="227.0" x2="385.5" y2="227.5" stroke-width="1.49"/>
<line x1="366.5" y1="229.5" x2="385.5" y2="230.0" stroke-width="1.49"/>
<line x1="366.5" y1="232.0" x2="385.5" y2="232.5" stroke-width="1.49"/>
<line x1="366.5" y1="234.5" x2="385.5" y2="235.0" stroke-width="1.49"/>
<line x1="366.5" y1="237.0" x2="385.5" y2="237.5" stroke-width="1.49"/>
<line x1="366.5" y1="239.5" x2="385.5" y2="240.0" stroke-width="1.49"/>
<line x1="366.5" y1="242.0" x2="385.5" y2="242.5" stroke-width="1.49"/>
<line x1="366.5" y1="244.5" x2="385.5" y2="245.0" stroke-width="1.49"/>
<line x1="366.5" y1="247.0" x2="385.5" y2="247.5" stroke-width="1.49"/>
<line x1="366.5" y1="249.5" x2="385.5" y2="250.0" stroke-width="1.49"/>
<line x1="366.5" y1="252.0" x2="385.5" y2="252.5" stroke-width="1.49"/>
<line x1="366.5" y1="254.5" x2="385.5" y2="255.0" stroke-width="1.49"/>
<line x1="366.5" y1="257.0" x2="385.5" y2="257.5" stroke-width="1.49"/>
<line x1="366.5" y1="259.5" x2="385.5" y2="260.0" stroke-width="1.49"/>
<line x1="366.5" y1="262.0" x2="385.5" y2="262.5" stroke-width="1.49"/>
<line x1="366.5" y1="264.5" x2="385.5" y2="265.0" stroke-width="1.49"/>
<line x1="366.5" y1="267.0" x2="385.5" y2="267.5" stroke-width="1.49"/>
<line x1="366.5" y1="269.5" x2="385.5" y2="270.0" stroke-width="1.49"/>
<line x1="366.5" y1="272.0" x2="385.5" y2="272.5" stroke-width="1.49"/>
<line x1="366.5" y1="274.5" x2="385.5" y2="275.0" stroke-width="1.49"/>
<path d="M322.0,61.5 C318.3,61.7 307.5,61.9 300.0,62.5 C292.5,63.1 285.7,63.7 277.0,65.3 C268.3,66.9 255.8,70.1 248.0,72.0 C240.2,73.9 234.7,75.1 230.0,76.5 C225.3,77.9 222.1,79.1 220.0,80.5 C217.9,81.9 217.2,83.7 217.5,85.0 C217.8,86.3 219.4,87.8 222.0,88.5 C224.6,89.2 228.7,89.4 233.0,89.5 C237.3,89.6 242.8,88.9 248.0,89.0 C253.2,89.1 257.3,89.3 264.0,90.0 C270.7,90.7 282.0,92.2 288.0,93.0 C294.0,93.8 298.0,94.7 300.0,95.0" stroke-width="9.89" fill="none" />
<path d="M322.0,61.5 C318.3,61.7 307.5,61.9 300.0,62.5 C292.5,63.1 285.7,63.7 277.0,65.3 C268.3,66.9 255.8,70.1 248.0,72.0 C240.2,73.9 234.7,75.1 230.0,76.5 C225.3,77.9 222.1,79.1 220.0,80.5 C217.9,81.9 217.2,83.7 217.5,85.0 C217.8,86.3 219.4,87.8 222.0,88.5 C224.6,89.2 228.7,89.4 233.0,89.5 C237.3,89.6 242.8,88.9 248.0,89.0 C253.2,89.1 257.3,89.3 264.0,90.0 C270.7,90.7 282.0,92.2 288.0,93.0 C294.0,93.8 298.0,94.7 300.0,95.0" stroke-width="5.75" fill="none" stroke="#fff"/>
<path d="M241.5,99.0 L242.2,105.0 L251.0,104.6 L258.0,100.0 L279.0,98.0 L307.0,97.3 L308.5,95.0 L304.5,92.0 L288.5,90.0 L258.0,91.3 L250.0,97.0 L243.0,98.0 Z" stroke-width="2.07" fill="white" />
<path d="M324.4,38.9 L329.5,39.6 L344.3,59.5 L342.8,74.3 L329.5,69.1 L320.7,62.5 L322.2,47.7 Z" stroke-width="1.72" fill="#000" />
<path d="M326.0,38.8 L368.0,38.9 L374.6,45.5 L373.9,49.2 L334.7,47.5 Z" stroke-width="2.30" fill="white" />
<path d="M334.7,47.5 L373.9,49.2 L376.0,51.4 L336.2,50.7 Z" stroke-width="1.84" fill="white" />
<path d="M336.2,50.7 L376.0,51.4 L385.0,60.3 L344.3,59.5 Z" stroke-width="2.30" fill="white" />
<path d="M344.3,59.5 L385.0,60.8 L382.0,75.0 L342.8,74.3 Z" stroke-width="2.53" fill="white" />
</svg></body></html>
